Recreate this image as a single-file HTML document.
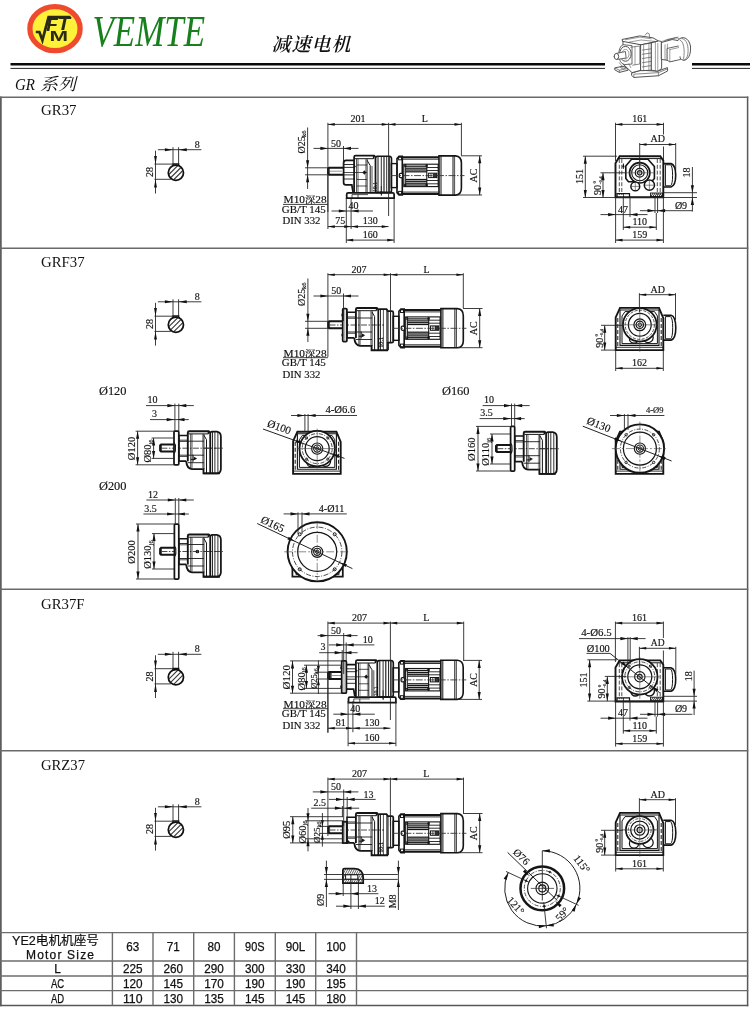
<!DOCTYPE html>
<html><head><meta charset="utf-8"><title>GR37</title>
<style>html,body{margin:0;padding:0;background:#fff}body{width:750px;height:1032px;overflow:hidden}svg{display:block;will-change:transform}</style>
</head><body>
<svg width="750" height="1032" viewBox="0 0 750 1032">
<rect width="750" height="1032" fill="#fff"/>
<ellipse cx="55.00" cy="28.65" rx="25.10" ry="22.00" fill="#fdf13a" stroke="#f04a2e" stroke-width="5.30" />
<path d="M35.8 32 L39.4 32 L42.4 40.2 L48.6 17.2 L70.6 17.2" fill="none" stroke="#2b2a16" stroke-width="2.70" stroke-linejoin="miter"/>
<text x="46.2" y="30.8" font-family="'Liberation Sans',sans-serif" font-weight="bold" font-style="italic" font-size="17.5" fill="#2b2a16" textLength="11.5" lengthAdjust="spacingAndGlyphs">F</text>
<text x="57.6" y="30.2" font-family="'Liberation Sans',sans-serif" font-weight="bold" font-style="italic" font-size="17.5" fill="#2b2a16" textLength="12.6" lengthAdjust="spacingAndGlyphs">T</text>
<text x="49.6" y="41" font-family="'Liberation Sans',sans-serif" font-weight="bold" font-size="15" fill="#2b2a16" textLength="18.6" lengthAdjust="spacingAndGlyphs">M</text>
<text x="92.50" y="45.60" font-family="'Liberation Serif','Noto Serif CJK SC',serif" font-size="45" fill="#17801c"   textLength="112.50" lengthAdjust="spacingAndGlyphs" font-style="italic"  >VEMTE</text>
<text x="271.5" y="51" font-family="'Liberation Serif','Noto Serif CJK SC',serif" font-size="19" font-weight="600" fill="#111" textLength="79" lengthAdjust="spacing" transform="translate(12.7 0) skewX(-14)">减速电机</text>
<line x1="10.50" y1="64.20" x2="605.00" y2="64.20" stroke="#0a0a0a" stroke-width="2.60" />
<line x1="10.50" y1="68.40" x2="605.00" y2="68.40" stroke="#222" stroke-width="1.00" />
<line x1="692.00" y1="64.20" x2="750.00" y2="64.20" stroke="#0a0a0a" stroke-width="2.60" />
<line x1="692.00" y1="68.40" x2="750.00" y2="68.40" stroke="#222" stroke-width="1.00" />
<text x="15" y="90" font-family="'Liberation Serif','Noto Serif CJK SC',serif" font-size="17" fill="#111" font-style="italic" textLength="20" lengthAdjust="spacingAndGlyphs">GR</text>
<text x="40" y="90" font-family="'Liberation Serif','Noto Serif CJK SC',serif" font-size="17" fill="#111" transform="translate(22.4 0) skewX(-14)" textLength="36" lengthAdjust="spacingAndGlyphs">系列</text>
<line x1="0.80" y1="96.60" x2="0.80" y2="1006.20" stroke="#5e5e5e" stroke-width="1.90" />
<line x1="747.60" y1="96.60" x2="747.60" y2="1006.20" stroke="#585858" stroke-width="1.50" />
<line x1="0.00" y1="97.30" x2="748.30" y2="97.30" stroke="#6a6a6a" stroke-width="1.50" />
<line x1="0.00" y1="248.30" x2="748.30" y2="248.30" stroke="#6a6a6a" stroke-width="1.50" />
<line x1="0.00" y1="589.30" x2="748.30" y2="589.30" stroke="#6a6a6a" stroke-width="1.50" />
<line x1="0.00" y1="750.70" x2="748.30" y2="750.70" stroke="#6a6a6a" stroke-width="1.50" />
<line x1="0.00" y1="932.60" x2="748.30" y2="932.60" stroke="#6c6c6c" stroke-width="1.40" />
<line x1="0.00" y1="961.00" x2="748.30" y2="961.00" stroke="#6c6c6c" stroke-width="1.40" />
<line x1="0.00" y1="976.00" x2="748.30" y2="976.00" stroke="#6c6c6c" stroke-width="1.40" />
<line x1="0.00" y1="990.60" x2="748.30" y2="990.60" stroke="#6c6c6c" stroke-width="1.40" />
<line x1="0.00" y1="1005.50" x2="748.30" y2="1005.50" stroke="#585858" stroke-width="1.50" />
<line x1="112.40" y1="932.60" x2="112.40" y2="1005.60" stroke="#6c6c6c" stroke-width="1.40" />
<line x1="153.00" y1="932.60" x2="153.00" y2="1005.60" stroke="#6c6c6c" stroke-width="1.40" />
<line x1="193.70" y1="932.60" x2="193.70" y2="1005.60" stroke="#6c6c6c" stroke-width="1.40" />
<line x1="234.40" y1="932.60" x2="234.40" y2="1005.60" stroke="#6c6c6c" stroke-width="1.40" />
<line x1="275.30" y1="932.60" x2="275.30" y2="1005.60" stroke="#6c6c6c" stroke-width="1.40" />
<line x1="315.70" y1="932.60" x2="315.70" y2="1005.60" stroke="#6c6c6c" stroke-width="1.40" />
<line x1="356.50" y1="932.60" x2="356.50" y2="1005.60" stroke="#6c6c6c" stroke-width="1.40" />
<text x="41.00" y="115.30" font-family="'Liberation Serif','Noto Serif CJK SC',serif" font-size="14.5" fill="#111"   textLength="35.50" lengthAdjust="spacingAndGlyphs"   >GR37</text>
<text x="41.00" y="267.00" font-family="'Liberation Serif','Noto Serif CJK SC',serif" font-size="14.5" fill="#111"   textLength="43.70" lengthAdjust="spacingAndGlyphs"   >GRF37</text>
<text x="41.00" y="609.00" font-family="'Liberation Serif','Noto Serif CJK SC',serif" font-size="14.5" fill="#111"   textLength="43.50" lengthAdjust="spacingAndGlyphs"   >GR37F</text>
<text x="41.00" y="770.30" font-family="'Liberation Serif','Noto Serif CJK SC',serif" font-size="14.5" fill="#111"   textLength="44.00" lengthAdjust="spacingAndGlyphs"   >GRZ37</text>
<text x="12" y="944.6" font-family="'Liberation Sans','Noto Sans CJK SC',sans-serif" font-size="12.4" fill="#111" stroke="#111" stroke-width="0.2" textLength="87" lengthAdjust="spacingAndGlyphs">YE2电机机座号</text>
<text x="26" y="958.5" font-family="'Liberation Sans',sans-serif" font-size="12" fill="#111" stroke="#111" stroke-width="0.25" textLength="68" lengthAdjust="spacing">Motor Size</text>
<text x="132.70" y="950.60" font-family="'Liberation Sans','Noto Sans CJK SC',sans-serif" font-size="12" fill="#111" text-anchor="middle"  textLength="13.00" lengthAdjust="spacingAndGlyphs"   stroke="#111" stroke-width="0.25">63</text>
<text x="173.30" y="950.60" font-family="'Liberation Sans','Noto Sans CJK SC',sans-serif" font-size="12" fill="#111" text-anchor="middle"  textLength="13.00" lengthAdjust="spacingAndGlyphs"   stroke="#111" stroke-width="0.25">71</text>
<text x="214.00" y="950.60" font-family="'Liberation Sans','Noto Sans CJK SC',sans-serif" font-size="12" fill="#111" text-anchor="middle"  textLength="13.00" lengthAdjust="spacingAndGlyphs"   stroke="#111" stroke-width="0.25">80</text>
<text x="254.80" y="950.60" font-family="'Liberation Sans','Noto Sans CJK SC',sans-serif" font-size="12" fill="#111" text-anchor="middle"  textLength="19.50" lengthAdjust="spacingAndGlyphs"   stroke="#111" stroke-width="0.25">90S</text>
<text x="295.50" y="950.60" font-family="'Liberation Sans','Noto Sans CJK SC',sans-serif" font-size="12" fill="#111" text-anchor="middle"  textLength="19.50" lengthAdjust="spacingAndGlyphs"   stroke="#111" stroke-width="0.25">90L</text>
<text x="336.00" y="950.60" font-family="'Liberation Sans','Noto Sans CJK SC',sans-serif" font-size="12" fill="#111" text-anchor="middle"  textLength="19.50" lengthAdjust="spacingAndGlyphs"   stroke="#111" stroke-width="0.25">100</text>
<text x="57.50" y="972.60" font-family="'Liberation Sans','Noto Sans CJK SC',sans-serif" font-size="12" fill="#111" text-anchor="middle"  textLength="6.60" lengthAdjust="spacingAndGlyphs"   stroke="#111" stroke-width="0.25">L</text>
<text x="132.70" y="972.60" font-family="'Liberation Sans','Noto Sans CJK SC',sans-serif" font-size="12" fill="#111" text-anchor="middle"  textLength="19.60" lengthAdjust="spacingAndGlyphs"   stroke="#111" stroke-width="0.25">225</text>
<text x="173.30" y="972.60" font-family="'Liberation Sans','Noto Sans CJK SC',sans-serif" font-size="12" fill="#111" text-anchor="middle"  textLength="19.60" lengthAdjust="spacingAndGlyphs"   stroke="#111" stroke-width="0.25">260</text>
<text x="214.00" y="972.60" font-family="'Liberation Sans','Noto Sans CJK SC',sans-serif" font-size="12" fill="#111" text-anchor="middle"  textLength="19.60" lengthAdjust="spacingAndGlyphs"   stroke="#111" stroke-width="0.25">290</text>
<text x="254.80" y="972.60" font-family="'Liberation Sans','Noto Sans CJK SC',sans-serif" font-size="12" fill="#111" text-anchor="middle"  textLength="19.60" lengthAdjust="spacingAndGlyphs"   stroke="#111" stroke-width="0.25">300</text>
<text x="295.50" y="972.60" font-family="'Liberation Sans','Noto Sans CJK SC',sans-serif" font-size="12" fill="#111" text-anchor="middle"  textLength="19.60" lengthAdjust="spacingAndGlyphs"   stroke="#111" stroke-width="0.25">330</text>
<text x="336.00" y="972.60" font-family="'Liberation Sans','Noto Sans CJK SC',sans-serif" font-size="12" fill="#111" text-anchor="middle"  textLength="19.60" lengthAdjust="spacingAndGlyphs"   stroke="#111" stroke-width="0.25">340</text>
<text x="57.50" y="987.60" font-family="'Liberation Sans','Noto Sans CJK SC',sans-serif" font-size="12" fill="#111" text-anchor="middle"  textLength="13.20" lengthAdjust="spacingAndGlyphs"   stroke="#111" stroke-width="0.25">AC</text>
<text x="132.70" y="987.60" font-family="'Liberation Sans','Noto Sans CJK SC',sans-serif" font-size="12" fill="#111" text-anchor="middle"  textLength="19.60" lengthAdjust="spacingAndGlyphs"   stroke="#111" stroke-width="0.25">120</text>
<text x="173.30" y="987.60" font-family="'Liberation Sans','Noto Sans CJK SC',sans-serif" font-size="12" fill="#111" text-anchor="middle"  textLength="19.60" lengthAdjust="spacingAndGlyphs"   stroke="#111" stroke-width="0.25">145</text>
<text x="214.00" y="987.60" font-family="'Liberation Sans','Noto Sans CJK SC',sans-serif" font-size="12" fill="#111" text-anchor="middle"  textLength="19.60" lengthAdjust="spacingAndGlyphs"   stroke="#111" stroke-width="0.25">170</text>
<text x="254.80" y="987.60" font-family="'Liberation Sans','Noto Sans CJK SC',sans-serif" font-size="12" fill="#111" text-anchor="middle"  textLength="19.60" lengthAdjust="spacingAndGlyphs"   stroke="#111" stroke-width="0.25">190</text>
<text x="295.50" y="987.60" font-family="'Liberation Sans','Noto Sans CJK SC',sans-serif" font-size="12" fill="#111" text-anchor="middle"  textLength="19.60" lengthAdjust="spacingAndGlyphs"   stroke="#111" stroke-width="0.25">190</text>
<text x="336.00" y="987.60" font-family="'Liberation Sans','Noto Sans CJK SC',sans-serif" font-size="12" fill="#111" text-anchor="middle"  textLength="19.60" lengthAdjust="spacingAndGlyphs"   stroke="#111" stroke-width="0.25">195</text>
<text x="57.50" y="1002.60" font-family="'Liberation Sans','Noto Sans CJK SC',sans-serif" font-size="12" fill="#111" text-anchor="middle"  textLength="13.20" lengthAdjust="spacingAndGlyphs"   stroke="#111" stroke-width="0.25">AD</text>
<text x="132.70" y="1002.60" font-family="'Liberation Sans','Noto Sans CJK SC',sans-serif" font-size="12" fill="#111" text-anchor="middle"  textLength="19.60" lengthAdjust="spacingAndGlyphs"   stroke="#111" stroke-width="0.25">110</text>
<text x="173.30" y="1002.60" font-family="'Liberation Sans','Noto Sans CJK SC',sans-serif" font-size="12" fill="#111" text-anchor="middle"  textLength="19.60" lengthAdjust="spacingAndGlyphs"   stroke="#111" stroke-width="0.25">130</text>
<text x="214.00" y="1002.60" font-family="'Liberation Sans','Noto Sans CJK SC',sans-serif" font-size="12" fill="#111" text-anchor="middle"  textLength="19.60" lengthAdjust="spacingAndGlyphs"   stroke="#111" stroke-width="0.25">135</text>
<text x="254.80" y="1002.60" font-family="'Liberation Sans','Noto Sans CJK SC',sans-serif" font-size="12" fill="#111" text-anchor="middle"  textLength="19.60" lengthAdjust="spacingAndGlyphs"   stroke="#111" stroke-width="0.25">145</text>
<text x="295.50" y="1002.60" font-family="'Liberation Sans','Noto Sans CJK SC',sans-serif" font-size="12" fill="#111" text-anchor="middle"  textLength="19.60" lengthAdjust="spacingAndGlyphs"   stroke="#111" stroke-width="0.25">145</text>
<text x="336.00" y="1002.60" font-family="'Liberation Sans','Noto Sans CJK SC',sans-serif" font-size="12" fill="#111" text-anchor="middle"  textLength="19.60" lengthAdjust="spacingAndGlyphs"   stroke="#111" stroke-width="0.25">180</text>
<g transform="translate(605 28) scale(0.12)"><path d="M225 375 L300 352 L440 360 L520 330 L522 358 L445 398 L240 412 L224 396 Z" stroke="#4a4a4a" stroke-width="8" fill="#fff" stroke-linejoin="round" stroke-linecap="round"/><path d="M240 412 L240 385 L445 372 L445 398 M445 372 L522 340" stroke="#5a5a5a" stroke-width="6" fill="none" stroke-linejoin="round" stroke-linecap="round"/><path d="M85 332 L150 318 L190 338 L192 352 L120 370 L84 350 Z" stroke="#4a4a4a" stroke-width="8" fill="#fff" stroke-linejoin="round" stroke-linecap="round"/><path d="M120 370 L120 352 L190 338 M120 352 L85 334" stroke="#5a5a5a" stroke-width="6" fill="none" stroke-linejoin="round" stroke-linecap="round"/><path d="M130 330 a22 9 0 1 0 44 0 a22 9 0 1 0 -44 0" stroke="#5a5a5a" stroke-width="5" fill="none" stroke-linejoin="round" stroke-linecap="round"/><path d="M150 110 L150 300 L225 372 L300 352 L300 140 Z" stroke="#4a4a4a" stroke-width="8" fill="#fff" stroke-linejoin="round" stroke-linecap="round"/><path d="M145 95 L290 66 L400 82 L445 108 L300 140 L150 112 Z" stroke="#4a4a4a" stroke-width="8" fill="#fff" stroke-linejoin="round" stroke-linecap="round"/><path d="M170 98 L292 76 L385 90 M200 118 L300 100 L420 112" stroke="#5a5a5a" stroke-width="5" fill="none" stroke-linejoin="round" stroke-linecap="round"/><path d="M335 60 L350 40 L368 48 L372 76" stroke="#5a5a5a" stroke-width="6" fill="none" stroke-linejoin="round" stroke-linecap="round"/><path d="M300 140 L388 124 L388 352 L300 356 Z" stroke="#4a4a4a" stroke-width="8" fill="#fff" stroke-linejoin="round" stroke-linecap="round"/><path d="M312 184 L380 174" stroke="#5a5a5a" stroke-width="6" fill="none" stroke-linejoin="round" stroke-linecap="round"/><path d="M312 219 L380 209" stroke="#5a5a5a" stroke-width="6" fill="none" stroke-linejoin="round" stroke-linecap="round"/><path d="M312 254 L380 244" stroke="#5a5a5a" stroke-width="6" fill="none" stroke-linejoin="round" stroke-linecap="round"/><path d="M312 289 L380 279" stroke="#5a5a5a" stroke-width="6" fill="none" stroke-linejoin="round" stroke-linecap="round"/><path d="M312 324 L380 314" stroke="#5a5a5a" stroke-width="6" fill="none" stroke-linejoin="round" stroke-linecap="round"/><path d="M322 140 L322 352 M366 130 L366 350" stroke="#5a5a5a" stroke-width="5" fill="none" stroke-linejoin="round" stroke-linecap="round"/><path d="M388 124 L445 108 L472 112 L472 338 L440 360 L388 352 Z" stroke="#4a4a4a" stroke-width="8" fill="#fff" stroke-linejoin="round" stroke-linecap="round"/><path d="M440 128 L440 360 M420 120 L420 355" stroke="#5a5a5a" stroke-width="5" fill="none" stroke-linejoin="round" stroke-linecap="round"/><path d="M150 140 C100 150 100 300 165 305 L225 300 L225 150 Z" stroke="#4a4a4a" stroke-width="7" fill="#fff" stroke-linejoin="round" stroke-linecap="round"/><path d="M170 215 m-48 0 a48 62 0 1 0 96 0 a48 62 0 1 0 -96 0" stroke="#4a4a4a" stroke-width="8" fill="#fff" stroke-linejoin="round" stroke-linecap="round"/><path d="M170 218 m-30 0 a30 40 0 1 0 60 0 a30 40 0 1 0 -60 0" stroke="#5a5a5a" stroke-width="5" fill="none" stroke-linejoin="round" stroke-linecap="round"/><path d="M215 160 L290 150 L290 300 L230 310" stroke="#5a5a5a" stroke-width="6" fill="none" stroke-linejoin="round" stroke-linecap="round"/><path d="M250 155 L250 305" stroke="#5a5a5a" stroke-width="5" fill="none" stroke-linejoin="round" stroke-linecap="round"/><path d="M95 212 L170 196 L176 250 L100 262 Z" stroke="#4a4a4a" stroke-width="7" fill="#fff" stroke-linejoin="round" stroke-linecap="round"/><path d="M95 237 m-19 0 a19 25 0 1 0 38 0 a19 25 0 1 0 -38 0" stroke="#4a4a4a" stroke-width="8" fill="#fff" stroke-linejoin="round" stroke-linecap="round"/><path d="M120 290 L150 330 M200 300 L215 330" stroke="#5a5a5a" stroke-width="5" fill="none" stroke-linejoin="round" stroke-linecap="round"/><path d="M472 120 L560 96 L640 110 L650 250 L560 275 L472 262 Z" stroke="#4a4a4a" stroke-width="8" fill="#fff" stroke-linejoin="round" stroke-linecap="round"/><path d="M480 110 L590 82 L640 92 M500 102 L600 78 M520 96 L610 76" stroke="#5a5a5a" stroke-width="5" fill="none" stroke-linejoin="round" stroke-linecap="round"/><path d="M500 140 L500 262 M520 135 L520 266" stroke="#5a5a5a" stroke-width="5" fill="none" stroke-linejoin="round" stroke-linecap="round"/><path d="M520 170 L610 150 L628 158 L630 262 L540 282 L520 270 Z" stroke="#4a4a4a" stroke-width="7" fill="#fff" stroke-linejoin="round" stroke-linecap="round"/><path d="M540 180 L540 282 M540 180 L628 160" stroke="#5a5a5a" stroke-width="5" fill="none" stroke-linejoin="round" stroke-linecap="round"/><path d="M610 100 C640 60 700 80 712 150 C720 220 690 275 650 268 C630 262 625 250 625 240" stroke="#4a4a4a" stroke-width="8" fill="#fff" stroke-linejoin="round" stroke-linecap="round"/><path d="M640 88 C680 90 700 150 690 220 C685 250 670 268 655 268" stroke="#5a5a5a" stroke-width="6" fill="none" stroke-linejoin="round" stroke-linecap="round"/><path d="M625 100 C655 110 668 180 655 255" stroke="#5a5a5a" stroke-width="6" fill="none" stroke-linejoin="round" stroke-linecap="round"/></g>
<clipPath id="c175_172"><circle cx="175.9" cy="172.7" r="7.0"/></clipPath>
<g clip-path="url(#c175_172)">
<line x1="162.70" y1="180.70" x2="178.70" y2="164.70" stroke="#333" stroke-width="1.12" />
<line x1="167.70" y1="180.70" x2="183.70" y2="164.70" stroke="#333" stroke-width="1.12" />
<line x1="172.70" y1="180.70" x2="188.70" y2="164.70" stroke="#333" stroke-width="1.12" />
</g>
<circle cx="175.90" cy="172.70" r="7.60" fill="none" stroke="#111" stroke-width="1.75" />
<path d="M173.00 166.10 L173.00 163.90 L178.60 163.90 L178.60 166.10" fill="none" stroke="#111" stroke-width="1.50" />
<line x1="173.00" y1="147.20" x2="173.00" y2="163.90" stroke="#222" stroke-width="0.88" />
<line x1="178.60" y1="147.20" x2="178.60" y2="163.90" stroke="#222" stroke-width="0.88" />
<line x1="157.90" y1="149.70" x2="201.40" y2="149.70" stroke="#222" stroke-width="0.88" />
<polygon points="173.00,149.70 164.88,151.14 164.88,148.26" fill="#111"/>
<polygon points="178.60,149.70 186.72,148.26 186.72,151.14" fill="#111"/>
<text x="197.20" y="147.50" font-family="'Liberation Serif','Noto Serif CJK SC',serif" font-size="10" fill="#111" text-anchor="middle"      stroke="#111" stroke-width="0.15">8</text>
<line x1="155.50" y1="150.70" x2="155.50" y2="193.50" stroke="#222" stroke-width="0.88" />
<line x1="154.50" y1="164.10" x2="172.40" y2="164.10" stroke="#222" stroke-width="0.88" />
<line x1="154.50" y1="179.30" x2="170.90" y2="179.30" stroke="#222" stroke-width="0.88" />
<polygon points="155.50,164.10 154.06,155.97 156.94,155.97" fill="#111"/>
<polygon points="155.50,179.30 156.94,187.42 154.06,187.42" fill="#111"/>
<text x="152.90" y="171.90" font-family="'Liberation Serif','Noto Serif CJK SC',serif" font-size="10" fill="#111" text-anchor="middle" transform="rotate(-90 152.90 171.90)"     stroke="#111" stroke-width="0.15">28</text>
<clipPath id="c175_324"><circle cx="175.9" cy="324.8" r="7.0"/></clipPath>
<g clip-path="url(#c175_324)">
<line x1="162.70" y1="332.80" x2="178.70" y2="316.80" stroke="#333" stroke-width="1.12" />
<line x1="167.70" y1="332.80" x2="183.70" y2="316.80" stroke="#333" stroke-width="1.12" />
<line x1="172.70" y1="332.80" x2="188.70" y2="316.80" stroke="#333" stroke-width="1.12" />
</g>
<circle cx="175.90" cy="324.80" r="7.60" fill="none" stroke="#111" stroke-width="1.75" />
<path d="M173.00 318.20 L173.00 316.00 L178.60 316.00 L178.60 318.20" fill="none" stroke="#111" stroke-width="1.50" />
<line x1="173.00" y1="299.30" x2="173.00" y2="316.00" stroke="#222" stroke-width="0.88" />
<line x1="178.60" y1="299.30" x2="178.60" y2="316.00" stroke="#222" stroke-width="0.88" />
<line x1="157.90" y1="301.80" x2="201.40" y2="301.80" stroke="#222" stroke-width="0.88" />
<polygon points="173.00,301.80 164.88,303.24 164.88,300.36" fill="#111"/>
<polygon points="178.60,301.80 186.72,300.36 186.72,303.24" fill="#111"/>
<text x="197.20" y="299.60" font-family="'Liberation Serif','Noto Serif CJK SC',serif" font-size="10" fill="#111" text-anchor="middle"      stroke="#111" stroke-width="0.15">8</text>
<line x1="155.50" y1="302.80" x2="155.50" y2="345.60" stroke="#222" stroke-width="0.88" />
<line x1="154.50" y1="316.20" x2="172.40" y2="316.20" stroke="#222" stroke-width="0.88" />
<line x1="154.50" y1="331.40" x2="170.90" y2="331.40" stroke="#222" stroke-width="0.88" />
<polygon points="155.50,316.20 154.06,308.07 156.94,308.07" fill="#111"/>
<polygon points="155.50,331.40 156.94,339.53 154.06,339.53" fill="#111"/>
<text x="152.90" y="324.00" font-family="'Liberation Serif','Noto Serif CJK SC',serif" font-size="10" fill="#111" text-anchor="middle" transform="rotate(-90 152.90 324.00)"     stroke="#111" stroke-width="0.15">28</text>
<clipPath id="c175_677"><circle cx="175.9" cy="677.3" r="7.0"/></clipPath>
<g clip-path="url(#c175_677)">
<line x1="162.70" y1="685.30" x2="178.70" y2="669.30" stroke="#333" stroke-width="1.12" />
<line x1="167.70" y1="685.30" x2="183.70" y2="669.30" stroke="#333" stroke-width="1.12" />
<line x1="172.70" y1="685.30" x2="188.70" y2="669.30" stroke="#333" stroke-width="1.12" />
</g>
<circle cx="175.90" cy="677.30" r="7.60" fill="none" stroke="#111" stroke-width="1.75" />
<path d="M173.00 670.70 L173.00 668.50 L178.60 668.50 L178.60 670.70" fill="none" stroke="#111" stroke-width="1.50" />
<line x1="173.00" y1="651.80" x2="173.00" y2="668.50" stroke="#222" stroke-width="0.88" />
<line x1="178.60" y1="651.80" x2="178.60" y2="668.50" stroke="#222" stroke-width="0.88" />
<line x1="157.90" y1="654.30" x2="201.40" y2="654.30" stroke="#222" stroke-width="0.88" />
<polygon points="173.00,654.30 164.88,655.74 164.88,652.86" fill="#111"/>
<polygon points="178.60,654.30 186.72,652.86 186.72,655.74" fill="#111"/>
<text x="197.20" y="652.10" font-family="'Liberation Serif','Noto Serif CJK SC',serif" font-size="10" fill="#111" text-anchor="middle"      stroke="#111" stroke-width="0.15">8</text>
<line x1="155.50" y1="655.30" x2="155.50" y2="698.10" stroke="#222" stroke-width="0.88" />
<line x1="154.50" y1="668.70" x2="172.40" y2="668.70" stroke="#222" stroke-width="0.88" />
<line x1="154.50" y1="683.90" x2="170.90" y2="683.90" stroke="#222" stroke-width="0.88" />
<polygon points="155.50,668.70 154.06,660.57 156.94,660.57" fill="#111"/>
<polygon points="155.50,683.90 156.94,692.02 154.06,692.02" fill="#111"/>
<text x="152.90" y="676.50" font-family="'Liberation Serif','Noto Serif CJK SC',serif" font-size="10" fill="#111" text-anchor="middle" transform="rotate(-90 152.90 676.50)"     stroke="#111" stroke-width="0.15">28</text>
<clipPath id="c175_829"><circle cx="175.9" cy="829.8" r="7.0"/></clipPath>
<g clip-path="url(#c175_829)">
<line x1="162.70" y1="837.80" x2="178.70" y2="821.80" stroke="#333" stroke-width="1.12" />
<line x1="167.70" y1="837.80" x2="183.70" y2="821.80" stroke="#333" stroke-width="1.12" />
<line x1="172.70" y1="837.80" x2="188.70" y2="821.80" stroke="#333" stroke-width="1.12" />
</g>
<circle cx="175.90" cy="829.80" r="7.60" fill="none" stroke="#111" stroke-width="1.75" />
<path d="M173.00 823.20 L173.00 821.00 L178.60 821.00 L178.60 823.20" fill="none" stroke="#111" stroke-width="1.50" />
<line x1="173.00" y1="804.30" x2="173.00" y2="821.00" stroke="#222" stroke-width="0.88" />
<line x1="178.60" y1="804.30" x2="178.60" y2="821.00" stroke="#222" stroke-width="0.88" />
<line x1="157.90" y1="806.80" x2="201.40" y2="806.80" stroke="#222" stroke-width="0.88" />
<polygon points="173.00,806.80 164.88,808.24 164.88,805.36" fill="#111"/>
<polygon points="178.60,806.80 186.72,805.36 186.72,808.24" fill="#111"/>
<text x="197.20" y="804.60" font-family="'Liberation Serif','Noto Serif CJK SC',serif" font-size="10" fill="#111" text-anchor="middle"      stroke="#111" stroke-width="0.15">8</text>
<line x1="155.50" y1="807.80" x2="155.50" y2="850.60" stroke="#222" stroke-width="0.88" />
<line x1="154.50" y1="821.20" x2="172.40" y2="821.20" stroke="#222" stroke-width="0.88" />
<line x1="154.50" y1="836.40" x2="170.90" y2="836.40" stroke="#222" stroke-width="0.88" />
<polygon points="155.50,821.20 154.06,813.07 156.94,813.07" fill="#111"/>
<polygon points="155.50,836.40 156.94,844.52 154.06,844.52" fill="#111"/>
<text x="152.90" y="829.00" font-family="'Liberation Serif','Noto Serif CJK SC',serif" font-size="10" fill="#111" text-anchor="middle" transform="rotate(-90 152.90 829.00)"     stroke="#111" stroke-width="0.15">28</text>
<path d="M615.7 350.1 L615.7 317.4 L620 307.9 L659 307.9 L663.3 318.1 L663.3 350.1 Z" fill="none" stroke="#151515" stroke-width="1.88" />
<path d="M620 345.4 L620 310 L659 310 L659 345.4 Z" fill="none" stroke="#151515" stroke-width="1.12" />
<path d="M622 343.6 L622 316 L625 311.6 L654.5 311.6 L657.4 316 L657.4 343.6 Z" fill="none" stroke="#151515" stroke-width="1.00" />
<line x1="617.80" y1="318.00" x2="617.80" y2="347.00" stroke="#151515" stroke-width="1.00" stroke-dasharray="4 2"/>
<line x1="661.20" y1="318.00" x2="661.20" y2="347.00" stroke="#151515" stroke-width="1.00" stroke-dasharray="4 2"/>
<line x1="616.00" y1="347.30" x2="663.00" y2="347.30" stroke="#151515" stroke-width="0.88" />
<path d="M663.3 315.3 L671 315.3 Q675.8 316.5 675.8 327.7 Q675.8 338.8 671 340.1 L663.3 340.1" fill="none" stroke="#151515" stroke-width="1.62" />
<path d="M665.4 316.6 L670.5 316.6 Q672.7 318 672.7 327.7 Q672.7 337.5 670.5 338.8 L665.4 338.8 Z" fill="none" stroke="#151515" stroke-width="1.00" />
<circle cx="634.00" cy="338.50" r="4.60" fill="none" stroke="#151515" stroke-width="1.25" />
<circle cx="648.00" cy="337.50" r="5.20" fill="none" stroke="#151515" stroke-width="1.25" />
<circle cx="639.80" cy="324.80" r="16.80" fill="#fff" stroke="#151515" stroke-width="1.75" />
<circle cx="639.80" cy="324.80" r="14.60" fill="none" stroke="#333" stroke-width="0.88" stroke-dasharray="3 1.5"/>
<circle cx="639.80" cy="324.80" r="11.40" fill="none" stroke="#151515" stroke-width="1.25" />
<circle cx="639.80" cy="324.80" r="5.90" fill="none" stroke="#151515" stroke-width="1.25" />
<circle cx="639.80" cy="324.80" r="3.70" fill="none" stroke="#151515" stroke-width="1.25" />
<circle cx="639.80" cy="324.80" r="1.80" fill="none" stroke="#151515" stroke-width="1.00" />
<line x1="621.80" y1="324.80" x2="657.80" y2="324.80" stroke="#444" stroke-width="0.62" />
<line x1="639.80" y1="306.80" x2="639.80" y2="351.80" stroke="#444" stroke-width="0.62" />
<line x1="639.40" y1="293.20" x2="639.40" y2="312.00" stroke="#222" stroke-width="0.88" />
<line x1="675.50" y1="293.20" x2="675.50" y2="320.00" stroke="#222" stroke-width="0.88" />
<line x1="639.40" y1="294.70" x2="675.50" y2="294.70" stroke="#222" stroke-width="0.88" />
<polygon points="639.40,294.70 646.27,293.41 646.27,295.99" fill="#111"/>
<polygon points="675.50,294.70 668.62,295.99 668.62,293.41" fill="#111"/>
<text x="657.80" y="292.60" font-family="'Liberation Serif','Noto Serif CJK SC',serif" font-size="10" fill="#111" text-anchor="middle"      stroke="#111" stroke-width="0.15">AD</text>
<line x1="604.70" y1="325.30" x2="604.70" y2="350.10" stroke="#222" stroke-width="0.88" />
<polygon points="604.70,325.30 606.28,332.80 603.12,332.80" fill="#111"/>
<polygon points="604.70,350.10 603.12,342.60 606.28,342.60" fill="#111"/>
<line x1="601.00" y1="325.30" x2="623.00" y2="325.30" stroke="#222" stroke-width="0.88" />
<line x1="601.00" y1="350.10" x2="616.00" y2="350.10" stroke="#222" stroke-width="0.88" />
<text x="602.60" y="347.80" font-family="'Liberation Serif','Noto Serif CJK SC',serif" font-size="10" fill="#111"  transform="rotate(-90 602.60 347.80)"     stroke="#111" stroke-width="0.15">90</text>
<text x="598.00" y="336.40" font-family="'Liberation Serif','Noto Serif CJK SC',serif" font-size="5" fill="#111"  transform="rotate(-90 598.00 336.40)"     stroke="#111" stroke-width="0.15">0</text>
<text x="603.20" y="337.00" font-family="'Liberation Serif','Noto Serif CJK SC',serif" font-size="5" fill="#111"  transform="rotate(-90 603.20 337.00)" textLength="8.00" lengthAdjust="spacingAndGlyphs"    stroke="#111" stroke-width="0.15">-0.4</text>
<line x1="615.70" y1="350.10" x2="615.70" y2="371.00" stroke="#222" stroke-width="0.88" />
<line x1="663.30" y1="350.10" x2="663.30" y2="371.00" stroke="#222" stroke-width="0.88" />
<line x1="615.70" y1="368.30" x2="663.30" y2="368.30" stroke="#222" stroke-width="0.88" />
<polygon points="615.70,368.30 622.58,367.01 622.58,369.59" fill="#111"/>
<polygon points="663.30,368.30 656.42,369.59 656.42,367.01" fill="#111"/>
<text x="639.50" y="366.00" font-family="'Liberation Serif','Noto Serif CJK SC',serif" font-size="10" fill="#111" text-anchor="middle"      stroke="#111" stroke-width="0.15">162</text>
<path d="M343.5 167.7 L329 167.7 L328 168.7 L328 173.7 L329 174.7 L343.5 174.7" fill="none" stroke="#151515" stroke-width="1.88" />
<line x1="329.40" y1="167.70" x2="329.40" y2="174.70" stroke="#151515" stroke-width="0.75" />
<line x1="330.00" y1="171.20" x2="342.00" y2="171.20" stroke="#555" stroke-width="0.62" />
<path d="M354.1 160.3 L346 160.3 Q343.6 160.5 343.6 163.0 L343.6 182.4 Q343.6 184.8 346 184.8 L351.8 184.8 L353 191.8" fill="none" stroke="#151515" stroke-width="1.75" />
<line x1="343.60" y1="164.50" x2="354.10" y2="164.50" stroke="#151515" stroke-width="0.88" />
<line x1="343.60" y1="167.40" x2="354.10" y2="167.40" stroke="#151515" stroke-width="0.88" />
<line x1="343.60" y1="174.90" x2="354.10" y2="174.90" stroke="#151515" stroke-width="0.88" />
<line x1="343.60" y1="179.00" x2="354.10" y2="179.00" stroke="#151515" stroke-width="0.88" />
<line x1="343.60" y1="172.50" x2="367.00" y2="172.50" stroke="#151515" stroke-width="0.75" />
<path d="M354.1 192.6 L354.1 157.2 Q354.1 155.7 355.6 155.7 L374.2 155.7 L375.5 157.0 L375.5 192.6" fill="none" stroke="#151515" stroke-width="1.75" />
<line x1="354.60" y1="158.70" x2="373.60" y2="158.70" stroke="#151515" stroke-width="1.00" />
<line x1="373.60" y1="155.70" x2="373.60" y2="158.70" stroke="#151515" stroke-width="1.50" />
<line x1="356.80" y1="158.70" x2="356.80" y2="192.00" stroke="#151515" stroke-width="1.00" />
<line x1="358.30" y1="158.70" x2="358.30" y2="192.00" stroke="#555" stroke-width="0.62" />
<line x1="367.00" y1="158.70" x2="367.00" y2="192.00" stroke="#151515" stroke-width="1.00" />
<line x1="365.60" y1="158.70" x2="365.60" y2="192.00" stroke="#555" stroke-width="0.62" />
<path d="M367 160.2 L370.2 165.5 L370.2 192.0" fill="none" stroke="#151515" stroke-width="1.00" />
<line x1="372.00" y1="166.00" x2="372.00" y2="192.00" stroke="#151515" stroke-width="0.75" />
<line x1="356.80" y1="165.00" x2="367.00" y2="165.00" stroke="#151515" stroke-width="0.75" />
<line x1="356.80" y1="179.50" x2="367.00" y2="179.50" stroke="#151515" stroke-width="0.75" />
<line x1="356.80" y1="186.00" x2="367.00" y2="186.00" stroke="#151515" stroke-width="0.75" />
<polygon points="362.4,172.5 364.4,170.2 366.2,172.5 364.4,174.8" fill="#151515"/>
<circle cx="354.60" cy="166.50" r="0.80" fill="#151515" stroke="#151515" stroke-width="0.62" />
<path d="M375.5 157.4 L377 156.2 L389.3 156.2 Q391.5 156.4 391.5 158.6 L391.5 190.4 Q391.5 192.4 389.3 192.4 L375.5 192.4" fill="none" stroke="#151515" stroke-width="1.62" />
<line x1="378.00" y1="156.40" x2="378.00" y2="192.20" stroke="#151515" stroke-width="1.00" />
<line x1="381.30" y1="156.40" x2="381.30" y2="192.20" stroke="#151515" stroke-width="0.88" />
<line x1="384.00" y1="156.40" x2="384.00" y2="192.20" stroke="#151515" stroke-width="1.12" />
<line x1="386.70" y1="156.40" x2="386.70" y2="192.20" stroke="#151515" stroke-width="0.88" />
<line x1="389.30" y1="156.40" x2="389.30" y2="192.20" stroke="#151515" stroke-width="1.00" />
<text x="376.60" y="192.00" font-family="'Liberation Serif','Noto Serif CJK SC',serif" font-size="6" fill="#111"  transform="rotate(-90 376.60 192.00)" textLength="10.00" lengthAdjust="spacingAndGlyphs"    stroke="#111" stroke-width="0.15">10.1</text>
<line x1="381.30" y1="186.00" x2="381.30" y2="195.50" stroke="#151515" stroke-width="0.75" />
<polygon points="381.30,196.00 380.15,191.62 382.45,191.62" fill="#111"/>
<path d="M348.2 192.8 L392.6 192.8 Q394.1 192.8 394.1 194.3 L394.1 198.2 L346.7 198.2 L346.7 194.3 Q346.7 192.8 348.2 192.8 Z" fill="none" stroke="#151515" stroke-width="1.75" />
<line x1="352.00" y1="194.60" x2="368.00" y2="194.60" stroke="#151515" stroke-width="0.75" />
<line x1="352.00" y1="194.60" x2="352.00" y2="198.20" stroke="#151515" stroke-width="0.75" />
<line x1="358.00" y1="194.60" x2="358.00" y2="198.20" stroke="#151515" stroke-width="0.75" />
<rect x="391.30" y="163.60" width="5.70" height="24.00" rx="0" fill="none" stroke="#151515" stroke-width="1.38" />
<path d="M397.0 158.6 L399.0 156.4 L402.3 156.4 L402.3 194.9 L399.0 194.9 L397.0 192.6 Z" fill="none" stroke="#151515" stroke-width="1.62" />
<rect x="398.60" y="157.20" width="3.00" height="2.60" rx="0" fill="none" stroke="#151515" stroke-width="1.00" />
<rect x="398.60" y="191.40" width="3.00" height="2.60" rx="0" fill="none" stroke="#151515" stroke-width="1.00" />
<line x1="402.30" y1="157.20" x2="439.00" y2="157.20" stroke="#151515" stroke-width="2.00" />
<line x1="402.30" y1="194.10" x2="439.00" y2="194.10" stroke="#151515" stroke-width="2.00" />
<line x1="402.30" y1="159.20" x2="439.00" y2="159.20" stroke="#151515" stroke-width="0.88" />
<line x1="402.30" y1="192.10" x2="439.00" y2="192.10" stroke="#151515" stroke-width="0.88" />
<rect x="403.80" y="164.20" width="34.40" height="22.40" rx="0" fill="none" stroke="#151515" stroke-width="1.12" />
<line x1="426.80" y1="164.20" x2="426.80" y2="186.60" stroke="#151515" stroke-width="1.12" />
<line x1="405.60" y1="164.20" x2="405.60" y2="186.60" stroke="#151515" stroke-width="0.88" />
<line x1="405.60" y1="166.20" x2="426.80" y2="166.20" stroke="#151515" stroke-width="1.25" />
<line x1="405.60" y1="168.20" x2="426.80" y2="168.20" stroke="#151515" stroke-width="1.25" />
<line x1="405.60" y1="170.00" x2="426.80" y2="170.00" stroke="#151515" stroke-width="1.25" />
<line x1="405.60" y1="171.80" x2="426.80" y2="171.80" stroke="#151515" stroke-width="1.25" />
<line x1="405.60" y1="179.50" x2="426.80" y2="179.50" stroke="#151515" stroke-width="1.25" />
<line x1="405.60" y1="181.30" x2="426.80" y2="181.30" stroke="#151515" stroke-width="1.25" />
<line x1="405.60" y1="183.20" x2="426.80" y2="183.20" stroke="#151515" stroke-width="1.25" />
<line x1="405.60" y1="185.00" x2="426.80" y2="185.00" stroke="#151515" stroke-width="1.25" />
<line x1="426.80" y1="167.50" x2="438.20" y2="167.50" stroke="#151515" stroke-width="0.88" />
<line x1="426.80" y1="170.50" x2="438.20" y2="170.50" stroke="#151515" stroke-width="0.88" />
<line x1="426.80" y1="180.50" x2="438.20" y2="180.50" stroke="#151515" stroke-width="0.88" />
<line x1="426.80" y1="183.80" x2="438.20" y2="183.80" stroke="#151515" stroke-width="0.88" />
<rect x="404.30" y="165.00" width="1.60" height="1.60" rx="0" fill="none" stroke="#151515" stroke-width="0.75" />
<rect x="404.30" y="184.20" width="1.60" height="1.60" rx="0" fill="none" stroke="#151515" stroke-width="0.75" />
<rect x="425.90" y="165.00" width="1.60" height="1.60" rx="0" fill="none" stroke="#151515" stroke-width="0.75" />
<rect x="425.90" y="184.20" width="1.60" height="1.60" rx="0" fill="none" stroke="#151515" stroke-width="0.75" />
<rect x="428.60" y="173.20" width="8.20" height="4.40" rx="0" fill="none" stroke="#151515" stroke-width="1.00" />
<rect x="433.20" y="173.80" width="3.20" height="3.20" rx="0" fill="#333" stroke="#151515" stroke-width="0.75" />
<line x1="431.00" y1="173.20" x2="431.00" y2="177.60" stroke="#151515" stroke-width="0.75" />
<rect x="399.30" y="173.40" width="3.40" height="4.20" rx="1.2" fill="#fff" stroke="#151515" stroke-width="1.25" />
<path d="M439.0 155.9 L455.5 155.9 Q461.4 156.4 461.4 163.0 L461.4 188.0 Q461.4 194.6 455.5 195.1 L439.0 195.1 Z" fill="none" stroke="#151515" stroke-width="1.62" />
<line x1="441.00" y1="155.90" x2="441.00" y2="195.10" stroke="#151515" stroke-width="1.00" />
<line x1="453.00" y1="155.90" x2="453.00" y2="195.10" stroke="#151515" stroke-width="1.00" />
<line x1="454.60" y1="156.00" x2="454.60" y2="195.00" stroke="#151515" stroke-width="0.75" />
<line x1="391.00" y1="175.60" x2="464.50" y2="175.60" stroke="#333" stroke-width="0.88" stroke-dasharray="7 1.5 1.5 1.5"/>
<line x1="327.90" y1="122.80" x2="327.90" y2="212.00" stroke="#222" stroke-width="0.88" />
<line x1="388.60" y1="122.80" x2="388.60" y2="216.00" stroke="#222" stroke-width="0.88" />
<line x1="461.40" y1="122.80" x2="461.40" y2="155.50" stroke="#222" stroke-width="0.88" />
<line x1="327.90" y1="124.40" x2="388.60" y2="124.40" stroke="#222" stroke-width="0.88" />
<polygon points="327.90,124.40 334.77,123.11 334.77,125.69" fill="#111"/>
<polygon points="388.60,124.40 381.73,125.69 381.73,123.11" fill="#111"/>
<line x1="388.60" y1="124.40" x2="461.40" y2="124.40" stroke="#222" stroke-width="0.88" />
<polygon points="388.60,124.40 395.48,123.11 395.48,125.69" fill="#111"/>
<polygon points="461.40,124.40 454.52,125.69 454.52,123.11" fill="#111"/>
<text x="358.00" y="122.30" font-family="'Liberation Serif','Noto Serif CJK SC',serif" font-size="10" fill="#111" text-anchor="middle"      stroke="#111" stroke-width="0.15">201</text>
<text x="424.70" y="122.30" font-family="'Liberation Serif','Noto Serif CJK SC',serif" font-size="10" fill="#111" text-anchor="middle"      stroke="#111" stroke-width="0.15">L</text>
<line x1="343.50" y1="146.00" x2="343.50" y2="167.00" stroke="#222" stroke-width="0.88" />
<line x1="313.50" y1="148.40" x2="358.50" y2="148.40" stroke="#222" stroke-width="0.88" />
<polygon points="327.90,148.40 320.40,149.98 320.40,146.82" fill="#111"/>
<polygon points="343.50,148.40 351.00,146.82 351.00,149.98" fill="#111"/>
<text x="336.00" y="146.60" font-family="'Liberation Serif','Noto Serif CJK SC',serif" font-size="10" fill="#111" text-anchor="middle"      stroke="#111" stroke-width="0.15">50</text>
<line x1="307.60" y1="127.50" x2="307.60" y2="189.00" stroke="#222" stroke-width="0.88" />
<line x1="305.00" y1="167.80" x2="328.00" y2="167.80" stroke="#222" stroke-width="0.88" />
<line x1="305.00" y1="174.80" x2="328.00" y2="174.80" stroke="#222" stroke-width="0.88" />
<polygon points="307.60,167.80 306.02,160.30 309.18,160.30" fill="#111"/>
<polygon points="307.60,174.80 309.18,182.30 306.02,182.30" fill="#111"/>
<text x="304.60" y="153.50" font-family="'Liberation Serif','Noto Serif CJK SC',serif" font-size="10" fill="#111"  transform="rotate(-90 304.60 153.50)"     stroke="#111" stroke-width="0.15">Ø25</text>
<text x="305.60" y="137.00" font-family="'Liberation Serif','Noto Serif CJK SC',serif" font-size="6.5" fill="#111"  transform="rotate(-90 305.60 137.00)"     stroke="#111" stroke-width="0.15">k6</text>
<line x1="479.70" y1="155.80" x2="479.70" y2="195.00" stroke="#222" stroke-width="0.88" />
<polygon points="479.70,155.80 481.28,163.30 478.12,163.30" fill="#111"/>
<polygon points="479.70,195.00 478.12,187.50 481.28,187.50" fill="#111"/>
<line x1="461.00" y1="155.80" x2="482.00" y2="155.80" stroke="#222" stroke-width="0.88" />
<line x1="456.00" y1="195.00" x2="482.00" y2="195.00" stroke="#222" stroke-width="0.88" />
<text x="477.20" y="175.60" font-family="'Liberation Serif','Noto Serif CJK SC',serif" font-size="10" fill="#111" text-anchor="middle" transform="rotate(-90 477.20 175.60)"     stroke="#111" stroke-width="0.15">AC</text>
<line x1="327.90" y1="175.00" x2="327.90" y2="229.00" stroke="#222" stroke-width="0.88" />
<line x1="346.30" y1="198.00" x2="346.30" y2="243.00" stroke="#222" stroke-width="0.88" />
<line x1="351.10" y1="198.00" x2="351.10" y2="229.00" stroke="#222" stroke-width="0.88" />
<line x1="394.10" y1="198.00" x2="394.10" y2="243.00" stroke="#222" stroke-width="0.88" />
<line x1="331.50" y1="211.00" x2="373.00" y2="211.00" stroke="#222" stroke-width="0.88" />
<polygon points="346.30,211.00 338.80,212.58 338.80,209.42" fill="#111"/>
<polygon points="351.10,211.00 358.60,209.42 358.60,212.58" fill="#111"/>
<text x="353.40" y="208.60" font-family="'Liberation Serif','Noto Serif CJK SC',serif" font-size="10" fill="#111" text-anchor="middle"      stroke="#111" stroke-width="0.15">40</text>
<line x1="327.90" y1="226.60" x2="351.10" y2="226.60" stroke="#222" stroke-width="0.88" />
<polygon points="327.90,226.60 334.77,225.31 334.77,227.89" fill="#111"/>
<polygon points="351.10,226.60 344.23,227.89 344.23,225.31" fill="#111"/>
<line x1="351.10" y1="226.60" x2="388.60" y2="226.60" stroke="#222" stroke-width="0.88" />
<polygon points="351.10,226.60 357.98,225.31 357.98,227.89" fill="#111"/>
<polygon points="388.60,226.60 381.73,227.89 381.73,225.31" fill="#111"/>
<text x="340.20" y="224.20" font-family="'Liberation Serif','Noto Serif CJK SC',serif" font-size="10" fill="#111" text-anchor="middle"      stroke="#111" stroke-width="0.15">75</text>
<text x="370.20" y="224.20" font-family="'Liberation Serif','Noto Serif CJK SC',serif" font-size="10" fill="#111" text-anchor="middle"      stroke="#111" stroke-width="0.15">130</text>
<line x1="346.30" y1="240.10" x2="394.10" y2="240.10" stroke="#222" stroke-width="0.88" />
<polygon points="346.30,240.10 353.18,238.81 353.18,241.39" fill="#111"/>
<polygon points="394.10,240.10 387.23,241.39 387.23,238.81" fill="#111"/>
<text x="370.20" y="237.80" font-family="'Liberation Serif','Noto Serif CJK SC',serif" font-size="10" fill="#111" text-anchor="middle"      stroke="#111" stroke-width="0.15">160</text>
<text x="283.60" y="203.20" font-family="'Liberation Serif','Noto Serif CJK SC',serif" font-size="10" fill="#111"   textLength="43.00" lengthAdjust="spacingAndGlyphs"    stroke="#111" stroke-width="0.15">M10<tspan font-size="9">深</tspan>28</text>
<line x1="283.00" y1="204.40" x2="327.90" y2="204.40" stroke="#222" stroke-width="0.88" />
<text x="281.80" y="212.90" font-family="'Liberation Serif','Noto Serif CJK SC',serif" font-size="10" fill="#111"   textLength="44.00" lengthAdjust="spacingAndGlyphs"    stroke="#111" stroke-width="0.15">GB/T 145</text>
<text x="282.50" y="224.20" font-family="'Liberation Serif','Noto Serif CJK SC',serif" font-size="10" fill="#111"   textLength="38.00" lengthAdjust="spacingAndGlyphs"    stroke="#111" stroke-width="0.15">DIN 332</text>
<path d="M615.5 197.3 L615.5 163.2 L619.6 156.2 L660.3 156.2 L663.3 160.6 L663.3 197.3 Z" fill="none" stroke="#151515" stroke-width="1.88" />
<line x1="618.50" y1="158.60" x2="661.00" y2="158.60" stroke="#151515" stroke-width="1.00" />
<line x1="619.30" y1="159.00" x2="619.30" y2="195.00" stroke="#151515" stroke-width="0.75" stroke-dasharray="4 1.8"/>
<line x1="621.80" y1="159.00" x2="621.80" y2="195.00" stroke="#151515" stroke-width="0.75" stroke-dasharray="4 1.8"/>
<line x1="657.30" y1="159.00" x2="657.30" y2="195.00" stroke="#151515" stroke-width="0.75" stroke-dasharray="4 1.8"/>
<line x1="660.20" y1="159.00" x2="660.20" y2="195.00" stroke="#151515" stroke-width="0.75" stroke-dasharray="4 1.8"/>
<line x1="623.40" y1="163.50" x2="623.40" y2="169.00" stroke="#151515" stroke-width="0.88" />
<polygon points="623.40,163.50 624.69,167.25 622.11,167.25" fill="#111"/>
<path d="M625.8 178.5 L625.8 166 L631.5 159.2 L648 159.2 L654.4 166.5 L654.4 178.5 L651.5 181.8 L628.5 181.8 Z" fill="none" stroke="#151515" stroke-width="1.62" />
<circle cx="639.70" cy="172.80" r="10.20" fill="#fff" stroke="#151515" stroke-width="1.62" />
<circle cx="639.70" cy="172.80" r="8.00" fill="none" stroke="#151515" stroke-width="1.12" />
<circle cx="639.70" cy="172.80" r="4.40" fill="none" stroke="#151515" stroke-width="1.25" />
<circle cx="639.70" cy="172.80" r="2.20" fill="none" stroke="#151515" stroke-width="1.12" />
<line x1="626.00" y1="172.80" x2="654.00" y2="172.80" stroke="#444" stroke-width="0.62" />
<line x1="639.70" y1="160.00" x2="639.70" y2="184.00" stroke="#444" stroke-width="0.62" />
<circle cx="635.30" cy="186.40" r="4.40" fill="#fff" stroke="#151515" stroke-width="1.50" />
<circle cx="649.40" cy="185.20" r="5.10" fill="#fff" stroke="#151515" stroke-width="1.50" />
<line x1="631.50" y1="186.40" x2="639.00" y2="186.40" stroke="#444" stroke-width="0.62" />
<line x1="635.30" y1="182.50" x2="635.30" y2="190.50" stroke="#444" stroke-width="0.62" />
<line x1="645.00" y1="185.20" x2="654.00" y2="185.20" stroke="#444" stroke-width="0.62" />
<line x1="649.40" y1="180.50" x2="649.40" y2="190.00" stroke="#444" stroke-width="0.62" />
<path d="M617 197.3 L617 193.7 L629.5 193.7 L629.5 197.3" fill="none" stroke="#151515" stroke-width="1.25" />
<line x1="623.50" y1="193.70" x2="623.50" y2="197.30" stroke="#151515" stroke-width="0.75" />
<rect x="650.50" y="193.00" width="12.00" height="3.60" rx="0" fill="none" stroke="#151515" stroke-width="0.88" />
<line x1="651.00" y1="196.60" x2="653.00" y2="193.00" stroke="#151515" stroke-width="0.88" />
<line x1="653.00" y1="196.60" x2="655.00" y2="193.00" stroke="#151515" stroke-width="0.88" />
<line x1="655.00" y1="196.60" x2="657.00" y2="193.00" stroke="#151515" stroke-width="0.88" />
<line x1="657.00" y1="196.60" x2="659.00" y2="193.00" stroke="#151515" stroke-width="0.88" />
<line x1="659.00" y1="196.60" x2="661.00" y2="193.00" stroke="#151515" stroke-width="0.88" />
<line x1="661.00" y1="196.60" x2="663.00" y2="193.00" stroke="#151515" stroke-width="0.88" />
<path d="M663.3 163.6 L671 163.6 Q675.7 165 675.7 175.3 Q675.7 185.6 671 187 L663.3 187" fill="none" stroke="#151515" stroke-width="1.62" />
<path d="M665.4 164.8 L670.5 164.8 Q672.6 166 672.6 175.3 Q672.6 184.6 670.5 185.8 L665.4 185.8 Z" fill="none" stroke="#151515" stroke-width="1.00" />
<line x1="615.50" y1="122.80" x2="615.50" y2="161.00" stroke="#222" stroke-width="0.88" />
<line x1="663.50" y1="122.80" x2="663.50" y2="134.50" stroke="#222" stroke-width="0.88" />
<line x1="663.50" y1="146.50" x2="663.50" y2="160.00" stroke="#222" stroke-width="0.88" />
<line x1="615.50" y1="124.40" x2="663.50" y2="124.40" stroke="#222" stroke-width="0.88" />
<polygon points="615.50,124.40 622.38,123.11 622.38,125.69" fill="#111"/>
<polygon points="663.50,124.40 656.62,125.69 656.62,123.11" fill="#111"/>
<text x="639.70" y="122.40" font-family="'Liberation Serif','Noto Serif CJK SC',serif" font-size="10" fill="#111" text-anchor="middle"      stroke="#111" stroke-width="0.15">161</text>
<line x1="639.70" y1="143.00" x2="639.70" y2="168.00" stroke="#222" stroke-width="0.88" />
<line x1="675.70" y1="143.00" x2="675.70" y2="170.00" stroke="#222" stroke-width="0.88" />
<line x1="639.70" y1="144.50" x2="675.70" y2="144.50" stroke="#222" stroke-width="0.88" />
<polygon points="639.70,144.50 646.58,143.21 646.58,145.79" fill="#111"/>
<polygon points="675.70,144.50 668.83,145.79 668.83,143.21" fill="#111"/>
<text x="657.80" y="142.30" font-family="'Liberation Serif','Noto Serif CJK SC',serif" font-size="10" fill="#111" text-anchor="middle"      stroke="#111" stroke-width="0.15">AD</text>
<line x1="585.30" y1="156.20" x2="585.30" y2="197.50" stroke="#222" stroke-width="0.88" />
<polygon points="585.30,156.20 586.88,163.70 583.72,163.70" fill="#111"/>
<polygon points="585.30,197.50 583.72,190.00 586.88,190.00" fill="#111"/>
<line x1="583.00" y1="156.20" x2="617.00" y2="156.20" stroke="#222" stroke-width="0.88" />
<line x1="583.00" y1="197.50" x2="697.00" y2="197.50" stroke="#222" stroke-width="0.88" />
<text x="583.00" y="176.50" font-family="'Liberation Serif','Noto Serif CJK SC',serif" font-size="10" fill="#111" text-anchor="middle" transform="rotate(-90 583.00 176.50)"     stroke="#111" stroke-width="0.15">151</text>
<line x1="603.00" y1="172.80" x2="603.00" y2="197.50" stroke="#222" stroke-width="0.88" />
<polygon points="603.00,172.80 604.58,180.30 601.42,180.30" fill="#111"/>
<polygon points="603.00,197.50 601.42,190.00 604.58,190.00" fill="#111"/>
<line x1="600.50" y1="172.80" x2="626.00" y2="172.80" stroke="#222" stroke-width="0.88" />
<text x="600.80" y="195.00" font-family="'Liberation Serif','Noto Serif CJK SC',serif" font-size="10" fill="#111"  transform="rotate(-90 600.80 195.00)"     stroke="#111" stroke-width="0.15">90</text>
<text x="596.40" y="183.60" font-family="'Liberation Serif','Noto Serif CJK SC',serif" font-size="5" fill="#111"  transform="rotate(-90 596.40 183.60)"     stroke="#111" stroke-width="0.15">0</text>
<text x="601.60" y="184.20" font-family="'Liberation Serif','Noto Serif CJK SC',serif" font-size="5" fill="#111"  transform="rotate(-90 601.60 184.20)" textLength="8.00" lengthAdjust="spacingAndGlyphs"    stroke="#111" stroke-width="0.15">-0.4</text>
<line x1="692.40" y1="167.00" x2="692.40" y2="211.50" stroke="#222" stroke-width="0.88" />
<polygon points="692.40,192.70 690.82,185.20 693.98,185.20" fill="#111"/>
<polygon points="692.40,197.50 693.98,205.00 690.82,205.00" fill="#111"/>
<line x1="663.30" y1="192.70" x2="697.00" y2="192.70" stroke="#222" stroke-width="0.88" />
<text x="690.30" y="172.60" font-family="'Liberation Serif','Noto Serif CJK SC',serif" font-size="10" fill="#111" text-anchor="middle" transform="rotate(-90 690.30 172.60)"     stroke="#111" stroke-width="0.15">18</text>
<line x1="655.00" y1="197.50" x2="655.00" y2="213.00" stroke="#222" stroke-width="0.88" />
<line x1="657.60" y1="197.50" x2="657.60" y2="213.00" stroke="#222" stroke-width="0.88" />
<line x1="640.00" y1="210.70" x2="692.40" y2="210.70" stroke="#222" stroke-width="0.88" />
<polygon points="655.00,210.70 647.50,212.28 647.50,209.12" fill="#111"/>
<polygon points="657.60,210.70 665.10,209.12 665.10,212.28" fill="#111"/>
<text x="681.00" y="208.60" font-family="'Liberation Serif','Noto Serif CJK SC',serif" font-size="10" fill="#111" text-anchor="middle"      stroke="#111" stroke-width="0.15">Ø9</text>
<line x1="615.60" y1="197.50" x2="615.60" y2="243.00" stroke="#222" stroke-width="0.88" />
<line x1="630.00" y1="197.50" x2="630.00" y2="217.00" stroke="#222" stroke-width="0.88" />
<line x1="600.50" y1="214.60" x2="647.50" y2="214.60" stroke="#222" stroke-width="0.88" />
<polygon points="615.60,214.60 608.10,216.18 608.10,213.02" fill="#111"/>
<polygon points="630.00,214.60 637.50,213.02 637.50,216.18" fill="#111"/>
<text x="623.00" y="212.60" font-family="'Liberation Serif','Noto Serif CJK SC',serif" font-size="10" fill="#111" text-anchor="middle"      stroke="#111" stroke-width="0.15">47</text>
<line x1="623.30" y1="197.50" x2="623.30" y2="230.00" stroke="#222" stroke-width="0.88" />
<line x1="656.30" y1="213.00" x2="656.30" y2="230.00" stroke="#222" stroke-width="0.88" />
<line x1="623.30" y1="227.20" x2="656.30" y2="227.20" stroke="#222" stroke-width="0.88" />
<polygon points="623.30,227.20 630.17,225.91 630.17,228.49" fill="#111"/>
<polygon points="656.30,227.20 649.42,228.49 649.42,225.91" fill="#111"/>
<text x="639.80" y="225.20" font-family="'Liberation Serif','Noto Serif CJK SC',serif" font-size="10" fill="#111" text-anchor="middle"      stroke="#111" stroke-width="0.15">110</text>
<line x1="663.40" y1="197.50" x2="663.40" y2="243.00" stroke="#222" stroke-width="0.88" />
<line x1="615.60" y1="240.10" x2="663.40" y2="240.10" stroke="#222" stroke-width="0.88" />
<polygon points="615.60,240.10 622.48,238.81 622.48,241.39" fill="#111"/>
<polygon points="663.40,240.10 656.52,241.39 656.52,238.81" fill="#111"/>
<text x="639.80" y="238.00" font-family="'Liberation Serif','Noto Serif CJK SC',serif" font-size="10" fill="#111" text-anchor="middle"      stroke="#111" stroke-width="0.15">159</text>
<path d="M343 321.3 L329.2 321.3 L328.2 322.3 L328.2 327.3 L329.2 328.3 L343 328.3" fill="none" stroke="#151515" stroke-width="2.00" />
<line x1="329.60" y1="321.30" x2="329.60" y2="328.30" stroke="#151515" stroke-width="0.75" />
<line x1="329.50" y1="325.00" x2="384.00" y2="325.00" stroke="#333" stroke-width="0.88" stroke-dasharray="6 1.5 1.5 1.5"/>
<path d="M355.9 312.3 L347 312.3 L347 337.9 L354.3 337.9" fill="none" stroke="#151515" stroke-width="1.62" />
<line x1="347.00" y1="317.00" x2="355.90" y2="317.00" stroke="#151515" stroke-width="0.88" />
<line x1="347.00" y1="318.30" x2="355.90" y2="318.30" stroke="#151515" stroke-width="0.75" />
<line x1="347.00" y1="332.00" x2="355.90" y2="332.00" stroke="#151515" stroke-width="0.88" />
<line x1="347.00" y1="333.30" x2="355.90" y2="333.30" stroke="#151515" stroke-width="0.75" />
<path d="M355.9 338 L355.9 309.5 Q355.9 308 357.4 308 L376.8 308 L378.3 309.2" fill="none" stroke="#151515" stroke-width="1.88" />
<path d="M354.3 337.9 Q355 345.5 360 345.9 L371.6 345.9 L371.6 350.2 L388 350.2" fill="none" stroke="#151515" stroke-width="1.88" />
<line x1="356.50" y1="310.70" x2="376.50" y2="310.70" stroke="#151515" stroke-width="1.00" />
<line x1="376.50" y1="308.00" x2="376.50" y2="310.70" stroke="#151515" stroke-width="1.50" />
<line x1="359.00" y1="310.70" x2="359.00" y2="345.50" stroke="#151515" stroke-width="1.00" />
<line x1="360.40" y1="310.70" x2="360.40" y2="345.50" stroke="#555" stroke-width="0.62" />
<line x1="372.00" y1="310.70" x2="372.00" y2="345.90" stroke="#151515" stroke-width="1.00" />
<line x1="370.60" y1="310.70" x2="370.60" y2="345.90" stroke="#555" stroke-width="0.62" />
<path d="M372 312 L374.6 316.5 L374.6 350" fill="none" stroke="#151515" stroke-width="1.00" />
<line x1="356.00" y1="318.00" x2="372.00" y2="318.00" stroke="#151515" stroke-width="0.88" />
<line x1="356.00" y1="332.00" x2="372.00" y2="332.00" stroke="#151515" stroke-width="0.88" />
<line x1="356.00" y1="339.50" x2="372.00" y2="339.50" stroke="#151515" stroke-width="0.88" />
<line x1="361.20" y1="331.50" x2="361.20" y2="338.50" stroke="#151515" stroke-width="1.00" />
<line x1="358.80" y1="336.20" x2="363.50" y2="336.20" stroke="#151515" stroke-width="1.00" />
<polygon points="362,333.6 365.3,335.2 362,336.8" fill="#151515"/>
<path d="M378.3 350.2 L378.3 310 L379.6 309 L386.5 309 L388 311.2 L391.8 311.2 Q393.3 311.2 393.3 312.7 L393.3 341.2 Q393.3 342.7 391.8 342.7 L388 342.7 L388 350.2" fill="none" stroke="#151515" stroke-width="1.75" />
<line x1="380.50" y1="309.20" x2="380.50" y2="350.00" stroke="#151515" stroke-width="0.88" />
<line x1="383.40" y1="309.20" x2="383.40" y2="350.00" stroke="#151515" stroke-width="0.75" />
<line x1="386.90" y1="309.20" x2="386.90" y2="350.00" stroke="#151515" stroke-width="1.00" />
<line x1="388.00" y1="311.20" x2="388.00" y2="342.70" stroke="#151515" stroke-width="1.00" />
<line x1="390.60" y1="311.20" x2="390.60" y2="342.70" stroke="#151515" stroke-width="1.00" />
<text x="382.80" y="347.80" font-family="'Liberation Serif','Noto Serif CJK SC',serif" font-size="6.5" fill="#111"  transform="rotate(-90 382.80 347.80)" textLength="11.00" lengthAdjust="spacingAndGlyphs"    stroke="#111" stroke-width="0.15">10.1</text>
<path d="M342.7 309.6 Q342.7 308.6 343.7 308.6 L345.9 308.6 Q346.9 308.6 346.9 309.6 L346.9 340.6 Q346.9 341.6 345.9 341.6 L343.7 341.6 Q342.7 341.6 342.7 340.6 Z" fill="#fff" stroke="#151515" stroke-width="1.75" />
<path d="M342.7 313.6 Q341.4 315.20000000000005 342.7 316.8" fill="none" stroke="#151515" stroke-width="1.62" />
<path d="M342.7 333.4 Q341.4 335.0 342.7 336.59999999999997" fill="none" stroke="#151515" stroke-width="1.62" />
<line x1="344.80" y1="308.60" x2="344.80" y2="341.60" stroke="#555" stroke-width="0.62" />
<rect x="393.20" y="316.30" width="5.70" height="24.00" rx="0" fill="none" stroke="#151515" stroke-width="1.38" />
<path d="M398.9 311.3 L400.9 309.1 L404.2 309.1 L404.2 347.6 L400.9 347.6 L398.9 345.3 Z" fill="none" stroke="#151515" stroke-width="1.62" />
<rect x="400.50" y="309.90" width="3.00" height="2.60" rx="0" fill="none" stroke="#151515" stroke-width="1.00" />
<rect x="400.50" y="344.10" width="3.00" height="2.60" rx="0" fill="none" stroke="#151515" stroke-width="1.00" />
<line x1="404.20" y1="309.90" x2="440.90" y2="309.90" stroke="#151515" stroke-width="2.00" />
<line x1="404.20" y1="346.80" x2="440.90" y2="346.80" stroke="#151515" stroke-width="2.00" />
<line x1="404.20" y1="311.90" x2="440.90" y2="311.90" stroke="#151515" stroke-width="0.88" />
<line x1="404.20" y1="344.80" x2="440.90" y2="344.80" stroke="#151515" stroke-width="0.88" />
<rect x="405.70" y="316.90" width="34.40" height="22.40" rx="0" fill="none" stroke="#151515" stroke-width="1.12" />
<line x1="428.70" y1="316.90" x2="428.70" y2="339.30" stroke="#151515" stroke-width="1.12" />
<line x1="407.50" y1="316.90" x2="407.50" y2="339.30" stroke="#151515" stroke-width="0.88" />
<line x1="407.50" y1="318.90" x2="428.70" y2="318.90" stroke="#151515" stroke-width="1.25" />
<line x1="407.50" y1="320.90" x2="428.70" y2="320.90" stroke="#151515" stroke-width="1.25" />
<line x1="407.50" y1="322.70" x2="428.70" y2="322.70" stroke="#151515" stroke-width="1.25" />
<line x1="407.50" y1="324.50" x2="428.70" y2="324.50" stroke="#151515" stroke-width="1.25" />
<line x1="407.50" y1="332.20" x2="428.70" y2="332.20" stroke="#151515" stroke-width="1.25" />
<line x1="407.50" y1="334.00" x2="428.70" y2="334.00" stroke="#151515" stroke-width="1.25" />
<line x1="407.50" y1="335.90" x2="428.70" y2="335.90" stroke="#151515" stroke-width="1.25" />
<line x1="407.50" y1="337.70" x2="428.70" y2="337.70" stroke="#151515" stroke-width="1.25" />
<line x1="428.70" y1="320.20" x2="440.10" y2="320.20" stroke="#151515" stroke-width="0.88" />
<line x1="428.70" y1="323.20" x2="440.10" y2="323.20" stroke="#151515" stroke-width="0.88" />
<line x1="428.70" y1="333.20" x2="440.10" y2="333.20" stroke="#151515" stroke-width="0.88" />
<line x1="428.70" y1="336.50" x2="440.10" y2="336.50" stroke="#151515" stroke-width="0.88" />
<rect x="406.20" y="317.70" width="1.60" height="1.60" rx="0" fill="none" stroke="#151515" stroke-width="0.75" />
<rect x="406.20" y="336.90" width="1.60" height="1.60" rx="0" fill="none" stroke="#151515" stroke-width="0.75" />
<rect x="427.80" y="317.70" width="1.60" height="1.60" rx="0" fill="none" stroke="#151515" stroke-width="0.75" />
<rect x="427.80" y="336.90" width="1.60" height="1.60" rx="0" fill="none" stroke="#151515" stroke-width="0.75" />
<rect x="430.50" y="325.90" width="8.20" height="4.40" rx="0" fill="none" stroke="#151515" stroke-width="1.00" />
<rect x="435.10" y="326.50" width="3.20" height="3.20" rx="0" fill="#333" stroke="#151515" stroke-width="0.75" />
<line x1="432.90" y1="325.90" x2="432.90" y2="330.30" stroke="#151515" stroke-width="0.75" />
<rect x="401.20" y="326.10" width="3.40" height="4.20" rx="1.2" fill="#fff" stroke="#151515" stroke-width="1.25" />
<path d="M440.9 308.6 L457.4 308.6 Q463.29999999999995 309.1 463.29999999999995 315.70000000000005 L463.29999999999995 340.70000000000005 Q463.29999999999995 347.3 457.4 347.8 L440.9 347.8 Z" fill="none" stroke="#151515" stroke-width="1.62" />
<line x1="442.90" y1="308.60" x2="442.90" y2="347.80" stroke="#151515" stroke-width="1.00" />
<line x1="454.90" y1="308.60" x2="454.90" y2="347.80" stroke="#151515" stroke-width="1.00" />
<line x1="456.50" y1="308.70" x2="456.50" y2="347.70" stroke="#151515" stroke-width="0.75" />
<line x1="392.90" y1="328.30" x2="466.40" y2="328.30" stroke="#333" stroke-width="0.88" stroke-dasharray="7 1.5 1.5 1.5"/>
<line x1="327.90" y1="273.20" x2="327.90" y2="357.00" stroke="#222" stroke-width="0.88" />
<line x1="390.50" y1="273.20" x2="390.50" y2="320.00" stroke="#222" stroke-width="0.88" />
<line x1="463.30" y1="273.20" x2="463.30" y2="308.00" stroke="#222" stroke-width="0.88" />
<line x1="327.90" y1="274.70" x2="390.50" y2="274.70" stroke="#222" stroke-width="0.88" />
<polygon points="327.90,274.70 334.77,273.41 334.77,275.99" fill="#111"/>
<polygon points="390.50,274.70 383.62,275.99 383.62,273.41" fill="#111"/>
<line x1="390.50" y1="274.70" x2="463.30" y2="274.70" stroke="#222" stroke-width="0.88" />
<polygon points="390.50,274.70 397.38,273.41 397.38,275.99" fill="#111"/>
<polygon points="463.30,274.70 456.43,275.99 456.43,273.41" fill="#111"/>
<text x="359.00" y="272.70" font-family="'Liberation Serif','Noto Serif CJK SC',serif" font-size="10" fill="#111" text-anchor="middle"      stroke="#111" stroke-width="0.15">207</text>
<text x="426.60" y="272.70" font-family="'Liberation Serif','Noto Serif CJK SC',serif" font-size="10" fill="#111" text-anchor="middle"      stroke="#111" stroke-width="0.15">L</text>
<line x1="479.70" y1="308.50" x2="479.70" y2="347.70" stroke="#222" stroke-width="0.88" />
<polygon points="479.70,308.50 481.28,316.00 478.12,316.00" fill="#111"/>
<polygon points="479.70,347.70 478.12,340.20 481.28,340.20" fill="#111"/>
<line x1="463.00" y1="308.50" x2="482.50" y2="308.50" stroke="#222" stroke-width="0.88" />
<line x1="458.00" y1="347.70" x2="482.50" y2="347.70" stroke="#222" stroke-width="0.88" />
<text x="476.60" y="328.30" font-family="'Liberation Serif','Noto Serif CJK SC',serif" font-size="10" fill="#111" text-anchor="middle" transform="rotate(-90 476.60 328.30)"     stroke="#111" stroke-width="0.15">AC</text>
<line x1="343.50" y1="293.50" x2="343.50" y2="321.00" stroke="#222" stroke-width="0.88" />
<line x1="313.50" y1="296.00" x2="358.50" y2="296.00" stroke="#222" stroke-width="0.88" />
<polygon points="327.90,296.00 320.40,297.58 320.40,294.42" fill="#111"/>
<polygon points="343.50,296.00 351.00,294.42 351.00,297.58" fill="#111"/>
<text x="336.20" y="294.00" font-family="'Liberation Serif','Noto Serif CJK SC',serif" font-size="10" fill="#111" text-anchor="middle"      stroke="#111" stroke-width="0.15">50</text>
<line x1="307.90" y1="278.50" x2="307.90" y2="342.00" stroke="#222" stroke-width="0.88" />
<line x1="305.00" y1="321.30" x2="328.00" y2="321.30" stroke="#222" stroke-width="0.88" />
<line x1="305.00" y1="328.30" x2="328.00" y2="328.30" stroke="#222" stroke-width="0.88" />
<polygon points="307.90,321.30 306.32,313.80 309.48,313.80" fill="#111"/>
<polygon points="307.90,328.30 309.48,335.80 306.32,335.80" fill="#111"/>
<text x="304.80" y="306.00" font-family="'Liberation Serif','Noto Serif CJK SC',serif" font-size="10" fill="#111"  transform="rotate(-90 304.80 306.00)"     stroke="#111" stroke-width="0.15">Ø25</text>
<text x="305.80" y="289.00" font-family="'Liberation Serif','Noto Serif CJK SC',serif" font-size="6.5" fill="#111"  transform="rotate(-90 305.80 289.00)"     stroke="#111" stroke-width="0.15">k6</text>
<text x="283.60" y="356.50" font-family="'Liberation Serif','Noto Serif CJK SC',serif" font-size="10" fill="#111"   textLength="43.00" lengthAdjust="spacingAndGlyphs"    stroke="#111" stroke-width="0.15">M10<tspan font-size="9">深</tspan>28</text>
<line x1="283.00" y1="357.70" x2="327.90" y2="357.70" stroke="#222" stroke-width="0.88" />
<text x="281.80" y="366.20" font-family="'Liberation Serif','Noto Serif CJK SC',serif" font-size="10" fill="#111"   textLength="44.00" lengthAdjust="spacingAndGlyphs"    stroke="#111" stroke-width="0.15">GB/T 145</text>
<text x="282.50" y="377.50" font-family="'Liberation Serif','Noto Serif CJK SC',serif" font-size="10" fill="#111"   textLength="38.00" lengthAdjust="spacingAndGlyphs"    stroke="#111" stroke-width="0.15">DIN 332</text>
<path d="M174.9 444.5 L161.1 444.5 L160.1 445.5 L160.1 450.5 L161.1 451.5 L174.9 451.5" fill="none" stroke="#151515" stroke-width="2.00" />
<line x1="161.50" y1="444.50" x2="161.50" y2="451.50" stroke="#151515" stroke-width="0.75" />
<line x1="161.40" y1="448.20" x2="215.90" y2="448.20" stroke="#333" stroke-width="0.88" stroke-dasharray="6 1.5 1.5 1.5"/>
<path d="M187.79999999999998 435.5 L178.9 435.5 L178.9 461.09999999999997 L186.20000000000002 461.09999999999997" fill="none" stroke="#151515" stroke-width="1.62" />
<line x1="178.90" y1="440.20" x2="187.80" y2="440.20" stroke="#151515" stroke-width="0.88" />
<line x1="178.90" y1="441.50" x2="187.80" y2="441.50" stroke="#151515" stroke-width="0.75" />
<line x1="178.90" y1="455.20" x2="187.80" y2="455.20" stroke="#151515" stroke-width="0.88" />
<line x1="178.90" y1="456.50" x2="187.80" y2="456.50" stroke="#151515" stroke-width="0.75" />
<path d="M187.79999999999998 461.2 L187.79999999999998 432.7 Q187.79999999999998 431.2 189.29999999999998 431.2 L208.70000000000002 431.2 L210.20000000000002 432.4" fill="none" stroke="#151515" stroke-width="1.88" />
<path d="M186.20000000000002 461.09999999999997 Q186.9 468.7 191.9 469.09999999999997 L203.50000000000003 469.09999999999997 L203.50000000000003 473.4 L219.9 473.4" fill="none" stroke="#151515" stroke-width="1.88" />
<line x1="188.40" y1="433.90" x2="208.40" y2="433.90" stroke="#151515" stroke-width="1.00" />
<line x1="208.40" y1="431.20" x2="208.40" y2="433.90" stroke="#151515" stroke-width="1.50" />
<line x1="190.90" y1="433.90" x2="190.90" y2="468.70" stroke="#151515" stroke-width="1.00" />
<line x1="192.30" y1="433.90" x2="192.30" y2="468.70" stroke="#555" stroke-width="0.62" />
<line x1="203.90" y1="433.90" x2="203.90" y2="469.10" stroke="#151515" stroke-width="1.00" />
<line x1="202.50" y1="433.90" x2="202.50" y2="469.10" stroke="#555" stroke-width="0.62" />
<path d="M203.9 435.2 L206.50000000000003 439.7 L206.50000000000003 473.2" fill="none" stroke="#151515" stroke-width="1.00" />
<line x1="187.90" y1="441.20" x2="203.90" y2="441.20" stroke="#151515" stroke-width="0.88" />
<line x1="187.90" y1="455.20" x2="203.90" y2="455.20" stroke="#151515" stroke-width="0.88" />
<line x1="187.90" y1="462.70" x2="203.90" y2="462.70" stroke="#151515" stroke-width="0.88" />
<line x1="193.10" y1="454.70" x2="193.10" y2="461.70" stroke="#151515" stroke-width="1.00" />
<line x1="190.70" y1="459.40" x2="195.40" y2="459.40" stroke="#151515" stroke-width="1.00" />
<polygon points="193.9,456.8 197.20000000000002,458.4 193.9,460.0" fill="#151515"/>
<path d="M210.20000000000002 473.4 L210.20000000000002 432.59999999999997 L211.9 431.59999999999997 L216.9 431.59999999999997 Q220.9 432.2 220.9 436.7 L220.9 468.7 Q220.9 473.2 216.9 473.4 L203.50000000000003 473.4" fill="none" stroke="#151515" stroke-width="1.75" />
<line x1="212.40" y1="432.00" x2="212.40" y2="473.20" stroke="#151515" stroke-width="1.00" />
<line x1="214.90" y1="432.00" x2="214.90" y2="473.20" stroke="#151515" stroke-width="0.88" />
<line x1="217.90" y1="432.00" x2="217.90" y2="473.20" stroke="#151515" stroke-width="0.88" />
<line x1="203.90" y1="448.20" x2="222.90" y2="448.20" stroke="#333" stroke-width="0.88" stroke-dasharray="6 1.5 1.5 1.5"/>
<path d="M174.00000000000003 432.2 Q174.00000000000003 431.2 175.00000000000003 431.2 L177.79999999999998 431.2 Q178.79999999999998 431.2 178.79999999999998 432.2 L178.79999999999998 463.8 Q178.79999999999998 464.8 177.79999999999998 464.8 L175.00000000000003 464.8 Q174.00000000000003 464.8 174.00000000000003 463.8 Z" fill="#fff" stroke="#151515" stroke-width="1.75" />
<path d="M174.00000000000003 442.7 Q175.80000000000004 444.2 175.4 448.0 Q175.80000000000004 451.8 174.00000000000003 453.2" fill="none" stroke="#151515" stroke-width="1.12" />
<text x="99.00" y="395.00" font-family="'Liberation Serif','Noto Serif CJK SC',serif" font-size="12" fill="#111"   textLength="27.50" lengthAdjust="spacingAndGlyphs"    stroke="#111" stroke-width="0.15">Ø120</text>
<line x1="174.90" y1="403.60" x2="174.90" y2="431.20" stroke="#222" stroke-width="0.88" />
<line x1="178.80" y1="403.60" x2="178.80" y2="431.20" stroke="#222" stroke-width="0.88" />
<line x1="146.00" y1="405.60" x2="193.80" y2="405.60" stroke="#222" stroke-width="0.88" />
<polygon points="174.90,405.60 167.40,407.18 167.40,404.02" fill="#111"/>
<polygon points="178.80,405.60 186.30,404.02 186.30,407.18" fill="#111"/>
<text x="152.50" y="403.20" font-family="'Liberation Serif','Noto Serif CJK SC',serif" font-size="10" fill="#111" text-anchor="middle"      stroke="#111" stroke-width="0.15">10</text>
<line x1="150.00" y1="419.60" x2="188.80" y2="419.60" stroke="#222" stroke-width="0.88" />
<polygon points="174.20,419.60 166.70,421.18 166.70,418.02" fill="#111"/>
<polygon points="177.00,419.60 184.50,418.02 184.50,421.18" fill="#111"/>
<text x="154.50" y="417.20" font-family="'Liberation Serif','Noto Serif CJK SC',serif" font-size="10" fill="#111" text-anchor="middle"      stroke="#111" stroke-width="0.15">3</text>
<line x1="137.60" y1="431.20" x2="137.60" y2="464.80" stroke="#222" stroke-width="0.88" />
<polygon points="137.60,431.20 139.18,438.70 136.02,438.70" fill="#111"/>
<polygon points="137.60,464.80 136.02,457.30 139.18,457.30" fill="#111"/>
<line x1="135.60" y1="431.20" x2="174.00" y2="431.20" stroke="#222" stroke-width="0.88" />
<line x1="135.60" y1="464.80" x2="174.00" y2="464.80" stroke="#222" stroke-width="0.88" />
<text x="135.00" y="448.50" font-family="'Liberation Serif','Noto Serif CJK SC',serif" font-size="10.5" fill="#111" text-anchor="middle" transform="rotate(-90 135.00 448.50)"     stroke="#111" stroke-width="0.15">Ø120</text>
<line x1="153.60" y1="438.00" x2="153.60" y2="458.40" stroke="#222" stroke-width="0.88" />
<polygon points="153.60,438.00 155.18,445.50 152.02,445.50" fill="#111"/>
<polygon points="153.60,458.40 152.02,450.90 155.18,450.90" fill="#111"/>
<line x1="151.60" y1="438.00" x2="174.00" y2="438.00" stroke="#222" stroke-width="0.88" />
<line x1="151.60" y1="458.40" x2="174.00" y2="458.40" stroke="#222" stroke-width="0.88" />
<text x="151.00" y="451.00" font-family="'Liberation Serif','Noto Serif CJK SC',serif" font-size="10.5" fill="#111" text-anchor="middle" transform="rotate(-90 151.00 451.00)"     stroke="#111" stroke-width="0.15">Ø80<tspan font-size="6.5" dy="1.5">j6</tspan></text>
<path d="M293.1 473.90000000000003 L293.1 441.2 L297.4 431.7 L336.4 431.7 L340.69999999999993 441.90000000000003 L340.69999999999993 473.90000000000003 Z" fill="none" stroke="#151515" stroke-width="1.88" />
<path d="M297.4 469.2 L297.4 433.8 L336.4 433.8 L336.4 469.2 Z" fill="none" stroke="#151515" stroke-width="1.12" />
<path d="M299.4 467.40000000000003 L299.4 439.8 L302.4 435.40000000000003 L331.9 435.40000000000003 L334.79999999999995 439.8 L334.79999999999995 467.40000000000003 Z" fill="none" stroke="#151515" stroke-width="1.00" />
<line x1="295.20" y1="441.80" x2="295.20" y2="470.80" stroke="#151515" stroke-width="1.00" stroke-dasharray="4 2"/>
<line x1="338.60" y1="441.80" x2="338.60" y2="470.80" stroke="#151515" stroke-width="1.00" stroke-dasharray="4 2"/>
<line x1="293.40" y1="471.10" x2="340.40" y2="471.10" stroke="#151515" stroke-width="0.88" />
<circle cx="311.40" cy="462.30" r="4.60" fill="none" stroke="#151515" stroke-width="1.25" />
<circle cx="325.40" cy="461.30" r="5.20" fill="none" stroke="#151515" stroke-width="1.25" />
<circle cx="317.20" cy="448.60" r="17.70" fill="#fff" stroke="#151515" stroke-width="1.75" />
<circle cx="317.20" cy="448.60" r="15.00" fill="none" stroke="#333" stroke-width="0.88" stroke-dasharray="4 1.5 1 1.5"/>
<circle cx="317.20" cy="448.60" r="12.00" fill="none" stroke="#151515" stroke-width="1.25" />
<circle cx="317.20" cy="448.60" r="5.60" fill="none" stroke="#151515" stroke-width="1.12" />
<circle cx="317.20" cy="448.60" r="3.60" fill="none" stroke="#151515" stroke-width="1.12" />
<circle cx="317.20" cy="448.60" r="1.70" fill="none" stroke="#151515" stroke-width="1.00" />
<line x1="297.20" y1="448.60" x2="337.20" y2="448.60" stroke="#444" stroke-width="0.62" />
<line x1="317.20" y1="428.60" x2="317.20" y2="468.60" stroke="#444" stroke-width="0.62" />
<circle cx="306.60" cy="438.00" r="1.10" fill="none" stroke="#151515" stroke-width="0.88" />
<circle cx="306.60" cy="459.20" r="1.10" fill="none" stroke="#151515" stroke-width="0.88" />
<circle cx="327.80" cy="438.00" r="1.10" fill="none" stroke="#151515" stroke-width="0.88" />
<circle cx="327.80" cy="459.20" r="1.10" fill="none" stroke="#151515" stroke-width="0.88" />
<line x1="263.00" y1="429.00" x2="344.50" y2="458.40" stroke="#222" stroke-width="1.00" />
<polygon points="303.11,443.47 295.51,442.41 296.59,439.44" fill="#111"/>
<polygon points="331.33,453.65 338.92,454.70 337.84,457.68" fill="#111"/>
<text x="266.50" y="426.30" font-family="'Liberation Serif','Noto Serif CJK SC',serif" font-size="11" fill="#111"  transform="rotate(19.8 266.50 426.30)"     stroke="#111" stroke-width="0.15">Ø100</text>
<line x1="304.90" y1="414.00" x2="304.90" y2="432.00" stroke="#222" stroke-width="0.88" />
<line x1="308.10" y1="414.00" x2="308.10" y2="432.00" stroke="#222" stroke-width="0.88" />
<line x1="291.00" y1="415.50" x2="357.00" y2="415.50" stroke="#222" stroke-width="0.88" />
<polygon points="304.90,415.50 297.40,417.08 297.40,413.92" fill="#111"/>
<polygon points="308.10,415.50 315.60,413.92 315.60,417.08" fill="#111"/>
<text x="325.40" y="413.30" font-family="'Liberation Serif','Noto Serif CJK SC',serif" font-size="10" fill="#111"   textLength="30.00" lengthAdjust="spacingAndGlyphs"    stroke="#111" stroke-width="0.15">4-Ø6.6</text>
<path d="M510.8 445.0 L497.0 445.0 L496.0 446.0 L496.0 451.0 L497.0 452.0 L510.8 452.0" fill="none" stroke="#151515" stroke-width="2.00" />
<line x1="497.40" y1="445.00" x2="497.40" y2="452.00" stroke="#151515" stroke-width="0.75" />
<line x1="497.30" y1="448.70" x2="551.80" y2="448.70" stroke="#333" stroke-width="0.88" stroke-dasharray="6 1.5 1.5 1.5"/>
<path d="M523.7 436.0 L514.8 436.0 L514.8 461.59999999999997 L522.1 461.59999999999997" fill="none" stroke="#151515" stroke-width="1.62" />
<line x1="514.80" y1="440.70" x2="523.70" y2="440.70" stroke="#151515" stroke-width="0.88" />
<line x1="514.80" y1="442.00" x2="523.70" y2="442.00" stroke="#151515" stroke-width="0.75" />
<line x1="514.80" y1="455.70" x2="523.70" y2="455.70" stroke="#151515" stroke-width="0.88" />
<line x1="514.80" y1="457.00" x2="523.70" y2="457.00" stroke="#151515" stroke-width="0.75" />
<path d="M523.7 461.7 L523.7 433.2 Q523.7 431.7 525.2 431.7 L544.6 431.7 L546.1 432.9" fill="none" stroke="#151515" stroke-width="1.88" />
<path d="M522.1 461.59999999999997 Q522.8 469.2 527.8 469.59999999999997 L539.4000000000001 469.59999999999997 L539.4000000000001 473.9 L555.8 473.9" fill="none" stroke="#151515" stroke-width="1.88" />
<line x1="524.30" y1="434.40" x2="544.30" y2="434.40" stroke="#151515" stroke-width="1.00" />
<line x1="544.30" y1="431.70" x2="544.30" y2="434.40" stroke="#151515" stroke-width="1.50" />
<line x1="526.80" y1="434.40" x2="526.80" y2="469.20" stroke="#151515" stroke-width="1.00" />
<line x1="528.20" y1="434.40" x2="528.20" y2="469.20" stroke="#555" stroke-width="0.62" />
<line x1="539.80" y1="434.40" x2="539.80" y2="469.60" stroke="#151515" stroke-width="1.00" />
<line x1="538.40" y1="434.40" x2="538.40" y2="469.60" stroke="#555" stroke-width="0.62" />
<path d="M539.8 435.7 L542.4000000000001 440.2 L542.4000000000001 473.7" fill="none" stroke="#151515" stroke-width="1.00" />
<line x1="523.80" y1="441.70" x2="539.80" y2="441.70" stroke="#151515" stroke-width="0.88" />
<line x1="523.80" y1="455.70" x2="539.80" y2="455.70" stroke="#151515" stroke-width="0.88" />
<line x1="523.80" y1="463.20" x2="539.80" y2="463.20" stroke="#151515" stroke-width="0.88" />
<line x1="529.00" y1="455.20" x2="529.00" y2="462.20" stroke="#151515" stroke-width="1.00" />
<line x1="526.60" y1="459.90" x2="531.30" y2="459.90" stroke="#151515" stroke-width="1.00" />
<polygon points="529.8,457.3 533.1,458.9 529.8,460.5" fill="#151515"/>
<path d="M546.1 473.9 L546.1 433.09999999999997 L547.8 432.09999999999997 L552.8 432.09999999999997 Q556.8 432.7 556.8 437.2 L556.8 469.2 Q556.8 473.7 552.8 473.9 L539.4000000000001 473.9" fill="none" stroke="#151515" stroke-width="1.75" />
<line x1="548.30" y1="432.50" x2="548.30" y2="473.70" stroke="#151515" stroke-width="1.00" />
<line x1="550.80" y1="432.50" x2="550.80" y2="473.70" stroke="#151515" stroke-width="0.88" />
<line x1="553.80" y1="432.50" x2="553.80" y2="473.70" stroke="#151515" stroke-width="0.88" />
<line x1="539.80" y1="448.70" x2="558.80" y2="448.70" stroke="#333" stroke-width="0.88" stroke-dasharray="6 1.5 1.5 1.5"/>
<path d="M510.6 427.4 Q510.6 426.4 511.6 426.4 L513.7 426.4 Q514.7 426.4 514.7 427.4 L514.7 470.0 Q514.7 471.0 513.7 471.0 L511.6 471.0 Q510.6 471.0 510.6 470.0 Z" fill="#fff" stroke="#151515" stroke-width="1.75" />
<path d="M510.6 443.2 Q512.4000000000001 444.7 512.0 448.5 Q512.4000000000001 452.3 510.6 453.7" fill="none" stroke="#151515" stroke-width="1.12" />
<text x="442.00" y="395.00" font-family="'Liberation Serif','Noto Serif CJK SC',serif" font-size="12" fill="#111"   textLength="27.50" lengthAdjust="spacingAndGlyphs"    stroke="#111" stroke-width="0.15">Ø160</text>
<line x1="511.50" y1="403.60" x2="511.50" y2="426.40" stroke="#222" stroke-width="0.88" />
<line x1="514.70" y1="403.60" x2="514.70" y2="426.40" stroke="#222" stroke-width="0.88" />
<line x1="482.60" y1="405.60" x2="529.70" y2="405.60" stroke="#222" stroke-width="0.88" />
<polygon points="511.50,405.60 504.00,407.18 504.00,404.02" fill="#111"/>
<polygon points="514.70,405.60 522.20,404.02 522.20,407.18" fill="#111"/>
<text x="489.10" y="403.20" font-family="'Liberation Serif','Noto Serif CJK SC',serif" font-size="10" fill="#111" text-anchor="middle"      stroke="#111" stroke-width="0.15">10</text>
<line x1="479.60" y1="418.60" x2="524.70" y2="418.60" stroke="#222" stroke-width="0.88" />
<polygon points="510.80,418.60 503.30,420.18 503.30,417.02" fill="#111"/>
<polygon points="513.60,418.60 521.10,417.02 521.10,420.18" fill="#111"/>
<text x="486.60" y="416.20" font-family="'Liberation Serif','Noto Serif CJK SC',serif" font-size="10" fill="#111" text-anchor="middle"      stroke="#111" stroke-width="0.15">3.5</text>
<line x1="478.00" y1="426.40" x2="478.00" y2="471.00" stroke="#222" stroke-width="0.88" />
<polygon points="478.00,426.40 479.58,433.90 476.42,433.90" fill="#111"/>
<polygon points="478.00,471.00 476.42,463.50 479.58,463.50" fill="#111"/>
<line x1="476.00" y1="426.40" x2="510.60" y2="426.40" stroke="#222" stroke-width="0.88" />
<line x1="476.00" y1="471.00" x2="510.60" y2="471.00" stroke="#222" stroke-width="0.88" />
<text x="475.40" y="449.20" font-family="'Liberation Serif','Noto Serif CJK SC',serif" font-size="10.5" fill="#111" text-anchor="middle" transform="rotate(-90 475.40 449.20)"     stroke="#111" stroke-width="0.15">Ø160</text>
<line x1="492.00" y1="434.00" x2="492.00" y2="464.00" stroke="#222" stroke-width="0.88" />
<polygon points="492.00,434.00 493.58,441.50 490.42,441.50" fill="#111"/>
<polygon points="492.00,464.00 490.42,456.50 493.58,456.50" fill="#111"/>
<line x1="490.00" y1="434.00" x2="510.60" y2="434.00" stroke="#222" stroke-width="0.88" />
<line x1="490.00" y1="464.00" x2="510.60" y2="464.00" stroke="#222" stroke-width="0.88" />
<text x="489.40" y="451.70" font-family="'Liberation Serif','Noto Serif CJK SC',serif" font-size="10.5" fill="#111" text-anchor="middle" transform="rotate(-90 489.40 451.70)"     stroke="#111" stroke-width="0.15">Ø110<tspan font-size="6.5" dy="1.5">j6</tspan></text>
<path d="M615.7 473.90000000000003 L615.7 441.2 L620 431.7 L659 431.7 L663.3 441.90000000000003 L663.3 473.90000000000003 Z" fill="none" stroke="#151515" stroke-width="1.88" />
<path d="M620 469.2 L620 433.8 L659 433.8 L659 469.2 Z" fill="none" stroke="#151515" stroke-width="1.12" />
<path d="M622 467.40000000000003 L622 439.8 L625 435.40000000000003 L654.5 435.40000000000003 L657.4 439.8 L657.4 467.40000000000003 Z" fill="none" stroke="#151515" stroke-width="1.00" />
<line x1="617.80" y1="441.80" x2="617.80" y2="470.80" stroke="#151515" stroke-width="1.00" stroke-dasharray="4 2"/>
<line x1="661.20" y1="441.80" x2="661.20" y2="470.80" stroke="#151515" stroke-width="1.00" stroke-dasharray="4 2"/>
<line x1="616.00" y1="471.10" x2="663.00" y2="471.10" stroke="#151515" stroke-width="0.88" />
<circle cx="634.00" cy="462.30" r="4.60" fill="none" stroke="#151515" stroke-width="1.25" />
<circle cx="648.00" cy="461.30" r="5.20" fill="none" stroke="#151515" stroke-width="1.25" />
<circle cx="639.90" cy="448.60" r="24.20" fill="#fff" stroke="#151515" stroke-width="1.88" />
<circle cx="639.90" cy="448.60" r="19.50" fill="none" stroke="#333" stroke-width="0.88" stroke-dasharray="4 1.5 1 1.5"/>
<circle cx="639.90" cy="448.60" r="16.50" fill="none" stroke="#151515" stroke-width="1.25" />
<circle cx="639.90" cy="448.60" r="5.60" fill="none" stroke="#151515" stroke-width="1.12" />
<circle cx="639.90" cy="448.60" r="3.60" fill="none" stroke="#151515" stroke-width="1.12" />
<circle cx="639.90" cy="448.60" r="1.70" fill="none" stroke="#151515" stroke-width="1.00" />
<line x1="611.90" y1="448.60" x2="667.90" y2="448.60" stroke="#444" stroke-width="0.62" stroke-dasharray="8 2 2 2"/>
<line x1="639.90" y1="421.60" x2="639.90" y2="473.60" stroke="#444" stroke-width="0.62" stroke-dasharray="8 2 2 2"/>
<circle cx="626.10" cy="434.80" r="1.20" fill="none" stroke="#151515" stroke-width="0.88" />
<circle cx="626.10" cy="462.40" r="1.20" fill="none" stroke="#151515" stroke-width="0.88" />
<circle cx="653.70" cy="434.80" r="1.20" fill="none" stroke="#151515" stroke-width="0.88" />
<circle cx="653.70" cy="462.40" r="1.20" fill="none" stroke="#151515" stroke-width="0.88" />
<line x1="582.80" y1="426.20" x2="671.60" y2="461.00" stroke="#222" stroke-width="1.00" />
<polygon points="621.75,441.47 614.19,440.20 615.35,437.26" fill="#111"/>
<polygon points="658.06,455.70 665.62,456.96 664.47,459.90" fill="#111"/>
<text x="586.00" y="423.60" font-family="'Liberation Serif','Noto Serif CJK SC',serif" font-size="11" fill="#111"  transform="rotate(21.4 586.00 423.60)"     stroke="#111" stroke-width="0.15">Ø130</text>
<line x1="624.40" y1="414.00" x2="624.40" y2="430.00" stroke="#222" stroke-width="0.88" />
<line x1="628.00" y1="414.00" x2="628.00" y2="430.00" stroke="#222" stroke-width="0.88" />
<line x1="610.00" y1="415.50" x2="664.40" y2="415.50" stroke="#222" stroke-width="0.88" />
<polygon points="624.40,415.50 616.90,417.08 616.90,413.92" fill="#111"/>
<polygon points="628.00,415.50 635.50,413.92 635.50,417.08" fill="#111"/>
<text x="646.00" y="413.30" font-family="'Liberation Serif','Noto Serif CJK SC',serif" font-size="7.5" fill="#111"   textLength="17.50" lengthAdjust="spacingAndGlyphs"    stroke="#111" stroke-width="0.15">4-Ø9</text>
<path d="M174.9 547.8 L161.1 547.8 L160.1 548.8 L160.1 553.8 L161.1 554.8 L174.9 554.8" fill="none" stroke="#151515" stroke-width="2.00" />
<line x1="161.50" y1="547.80" x2="161.50" y2="554.80" stroke="#151515" stroke-width="0.75" />
<line x1="161.40" y1="551.50" x2="215.90" y2="551.50" stroke="#333" stroke-width="0.88" stroke-dasharray="6 1.5 1.5 1.5"/>
<path d="M187.79999999999998 538.8 L178.9 538.8 L178.9 564.4 L186.20000000000002 564.4" fill="none" stroke="#151515" stroke-width="1.62" />
<line x1="178.90" y1="543.50" x2="187.80" y2="543.50" stroke="#151515" stroke-width="0.88" />
<line x1="178.90" y1="544.80" x2="187.80" y2="544.80" stroke="#151515" stroke-width="0.75" />
<line x1="178.90" y1="558.50" x2="187.80" y2="558.50" stroke="#151515" stroke-width="0.88" />
<line x1="178.90" y1="559.80" x2="187.80" y2="559.80" stroke="#151515" stroke-width="0.75" />
<path d="M187.79999999999998 564.5 L187.79999999999998 536.0 Q187.79999999999998 534.5 189.29999999999998 534.5 L208.70000000000002 534.5 L210.20000000000002 535.7" fill="none" stroke="#151515" stroke-width="1.88" />
<path d="M186.20000000000002 564.4 Q186.9 572.0 191.9 572.4 L203.50000000000003 572.4 L203.50000000000003 576.7 L219.9 576.7" fill="none" stroke="#151515" stroke-width="1.88" />
<line x1="188.40" y1="537.20" x2="208.40" y2="537.20" stroke="#151515" stroke-width="1.00" />
<line x1="208.40" y1="534.50" x2="208.40" y2="537.20" stroke="#151515" stroke-width="1.50" />
<line x1="190.90" y1="537.20" x2="190.90" y2="572.00" stroke="#151515" stroke-width="1.00" />
<line x1="192.30" y1="537.20" x2="192.30" y2="572.00" stroke="#555" stroke-width="0.62" />
<line x1="203.90" y1="537.20" x2="203.90" y2="572.40" stroke="#151515" stroke-width="1.00" />
<line x1="202.50" y1="537.20" x2="202.50" y2="572.40" stroke="#555" stroke-width="0.62" />
<path d="M203.9 538.5 L206.50000000000003 543.0 L206.50000000000003 576.5" fill="none" stroke="#151515" stroke-width="1.00" />
<line x1="187.90" y1="544.50" x2="203.90" y2="544.50" stroke="#151515" stroke-width="0.88" />
<line x1="187.90" y1="558.50" x2="203.90" y2="558.50" stroke="#151515" stroke-width="0.88" />
<line x1="187.90" y1="566.00" x2="203.90" y2="566.00" stroke="#151515" stroke-width="0.88" />
<circle cx="197.40" cy="551.50" r="1.30" fill="none" stroke="#151515" stroke-width="1.12" />
<path d="M210.20000000000002 576.7 L210.20000000000002 535.9 L211.9 534.9 L216.9 534.9 Q220.9 535.5 220.9 540.0 L220.9 572.0 Q220.9 576.5 216.9 576.7 L203.50000000000003 576.7" fill="none" stroke="#151515" stroke-width="1.75" />
<line x1="212.40" y1="535.30" x2="212.40" y2="576.50" stroke="#151515" stroke-width="1.00" />
<line x1="214.90" y1="535.30" x2="214.90" y2="576.50" stroke="#151515" stroke-width="0.88" />
<line x1="217.90" y1="535.30" x2="217.90" y2="576.50" stroke="#151515" stroke-width="0.88" />
<line x1="203.90" y1="551.50" x2="222.90" y2="551.50" stroke="#333" stroke-width="0.88" stroke-dasharray="6 1.5 1.5 1.5"/>
<path d="M174.4 525.0 Q174.4 524.0 175.4 524.0 L177.79999999999998 524.0 Q178.79999999999998 524.0 178.79999999999998 525.0 L178.79999999999998 578.0 Q178.79999999999998 579.0 177.79999999999998 579.0 L175.4 579.0 Q174.4 579.0 174.4 578.0 Z" fill="#fff" stroke="#151515" stroke-width="1.75" />
<path d="M174.4 546.0 Q176.20000000000002 547.5 175.79999999999998 551.3 Q176.20000000000002 555.1 174.4 556.5" fill="none" stroke="#151515" stroke-width="1.12" />
<text x="99.00" y="490.00" font-family="'Liberation Serif','Noto Serif CJK SC',serif" font-size="12" fill="#111"   textLength="27.50" lengthAdjust="spacingAndGlyphs"    stroke="#111" stroke-width="0.15">Ø200</text>
<line x1="175.30" y1="498.00" x2="175.30" y2="524.00" stroke="#222" stroke-width="0.88" />
<line x1="178.80" y1="498.00" x2="178.80" y2="524.00" stroke="#222" stroke-width="0.88" />
<line x1="146.40" y1="500.00" x2="193.80" y2="500.00" stroke="#222" stroke-width="0.88" />
<polygon points="175.30,500.00 167.80,501.58 167.80,498.42" fill="#111"/>
<polygon points="178.80,500.00 186.30,498.42 186.30,501.58" fill="#111"/>
<text x="152.90" y="497.60" font-family="'Liberation Serif','Noto Serif CJK SC',serif" font-size="10" fill="#111" text-anchor="middle"      stroke="#111" stroke-width="0.15">12</text>
<line x1="143.40" y1="514.00" x2="188.80" y2="514.00" stroke="#222" stroke-width="0.88" />
<polygon points="174.60,514.00 167.10,515.58 167.10,512.42" fill="#111"/>
<polygon points="177.40,514.00 184.90,512.42 184.90,515.58" fill="#111"/>
<text x="150.40" y="511.60" font-family="'Liberation Serif','Noto Serif CJK SC',serif" font-size="10" fill="#111" text-anchor="middle"      stroke="#111" stroke-width="0.15">3.5</text>
<line x1="138.00" y1="524.00" x2="138.00" y2="579.00" stroke="#222" stroke-width="0.88" />
<polygon points="138.00,524.00 139.58,531.50 136.42,531.50" fill="#111"/>
<polygon points="138.00,579.00 136.42,571.50 139.58,571.50" fill="#111"/>
<line x1="136.00" y1="524.00" x2="174.40" y2="524.00" stroke="#222" stroke-width="0.88" />
<line x1="136.00" y1="579.00" x2="174.40" y2="579.00" stroke="#222" stroke-width="0.88" />
<text x="135.40" y="552.00" font-family="'Liberation Serif','Noto Serif CJK SC',serif" font-size="10.5" fill="#111" text-anchor="middle" transform="rotate(-90 135.40 552.00)"     stroke="#111" stroke-width="0.15">Ø200</text>
<line x1="154.00" y1="533.60" x2="154.00" y2="569.00" stroke="#222" stroke-width="0.88" />
<polygon points="154.00,533.60 155.58,541.10 152.42,541.10" fill="#111"/>
<polygon points="154.00,569.00 152.42,561.50 155.58,561.50" fill="#111"/>
<line x1="152.00" y1="533.60" x2="174.40" y2="533.60" stroke="#222" stroke-width="0.88" />
<line x1="152.00" y1="569.00" x2="174.40" y2="569.00" stroke="#222" stroke-width="0.88" />
<text x="151.40" y="554.50" font-family="'Liberation Serif','Noto Serif CJK SC',serif" font-size="10.5" fill="#111" text-anchor="middle" transform="rotate(-90 151.40 554.50)"     stroke="#111" stroke-width="0.15">Ø130<tspan font-size="6.5" dy="1.5">j6</tspan></text>
<path d="M292.4 560 L292.4 576.6 L342.8 576.6 L342.8 560" fill="none" stroke="#151515" stroke-width="1.75" />
<path d="M296 570 L296 574.6 L339 574.6 L339 570" fill="none" stroke="#151515" stroke-width="0.88" />
<circle cx="317.20" cy="551.80" r="29.60" fill="#fff" stroke="#151515" stroke-width="1.88" />
<circle cx="317.20" cy="551.80" r="24.70" fill="none" stroke="#333" stroke-width="0.88" stroke-dasharray="5 1.5 1 1.5"/>
<circle cx="317.20" cy="551.80" r="19.50" fill="none" stroke="#151515" stroke-width="1.25" />
<circle cx="317.20" cy="551.80" r="5.60" fill="none" stroke="#151515" stroke-width="1.12" />
<circle cx="317.20" cy="551.80" r="3.60" fill="none" stroke="#151515" stroke-width="1.12" />
<circle cx="317.20" cy="551.80" r="1.70" fill="none" stroke="#151515" stroke-width="1.00" />
<line x1="284.20" y1="551.80" x2="350.20" y2="551.80" stroke="#444" stroke-width="0.62" stroke-dasharray="8 2 2 2"/>
<line x1="317.20" y1="520.80" x2="317.20" y2="580.80" stroke="#444" stroke-width="0.62" stroke-dasharray="8 2 2 2"/>
<circle cx="299.70" cy="534.30" r="1.50" fill="none" stroke="#151515" stroke-width="1.00" />
<circle cx="299.70" cy="569.30" r="1.50" fill="none" stroke="#151515" stroke-width="1.00" />
<circle cx="334.70" cy="534.30" r="1.50" fill="none" stroke="#151515" stroke-width="1.00" />
<circle cx="334.70" cy="569.30" r="1.50" fill="none" stroke="#151515" stroke-width="1.00" />
<line x1="257.20" y1="523.50" x2="352.40" y2="568.60" stroke="#222" stroke-width="1.00" />
<polygon points="294.83,541.33 287.38,539.54 288.73,536.69" fill="#111"/>
<polygon points="339.47,562.48 346.93,564.26 345.57,567.12" fill="#111"/>
<text x="260.00" y="522.20" font-family="'Liberation Serif','Noto Serif CJK SC',serif" font-size="11" fill="#111"  transform="rotate(25.3 260.00 522.20)"     stroke="#111" stroke-width="0.15">Ø165</text>
<line x1="298.00" y1="512.40" x2="298.00" y2="534.00" stroke="#222" stroke-width="0.88" />
<line x1="302.00" y1="512.40" x2="302.00" y2="534.00" stroke="#222" stroke-width="0.88" />
<line x1="283.60" y1="513.90" x2="346.80" y2="513.90" stroke="#222" stroke-width="0.88" />
<polygon points="298.00,513.90 290.50,515.48 290.50,512.32" fill="#111"/>
<polygon points="302.00,513.90 309.50,512.32 309.50,515.48" fill="#111"/>
<text x="318.80" y="511.70" font-family="'Liberation Serif','Noto Serif CJK SC',serif" font-size="10" fill="#111"   textLength="25.50" lengthAdjust="spacingAndGlyphs"    stroke="#111" stroke-width="0.15">4-Ø11</text>
<path d="M345.3 672.0 L330.8 672.0 L329.8 673.0 L329.8 678.0 L330.8 679.0 L345.3 679.0" fill="none" stroke="#151515" stroke-width="1.88" />
<line x1="331.20" y1="672.00" x2="331.20" y2="679.00" stroke="#151515" stroke-width="0.75" />
<line x1="331.80" y1="675.50" x2="343.80" y2="675.50" stroke="#555" stroke-width="0.62" />
<path d="M355.90000000000003 664.6 L347.8 664.6 Q345.40000000000003 664.8 345.40000000000003 667.3 L345.40000000000003 686.7 Q345.40000000000003 689.1 347.8 689.1 L353.6 689.1 L354.8 696.1" fill="none" stroke="#151515" stroke-width="1.75" />
<line x1="345.40" y1="668.80" x2="355.90" y2="668.80" stroke="#151515" stroke-width="0.88" />
<line x1="345.40" y1="671.70" x2="355.90" y2="671.70" stroke="#151515" stroke-width="0.88" />
<line x1="345.40" y1="679.20" x2="355.90" y2="679.20" stroke="#151515" stroke-width="0.88" />
<line x1="345.40" y1="683.30" x2="355.90" y2="683.30" stroke="#151515" stroke-width="0.88" />
<line x1="345.40" y1="676.80" x2="368.80" y2="676.80" stroke="#151515" stroke-width="0.75" />
<path d="M355.90000000000003 696.9 L355.90000000000003 661.5 Q355.90000000000003 660.0 357.40000000000003 660.0 L376.0 660.0 L377.3 661.3 L377.3 696.9" fill="none" stroke="#151515" stroke-width="1.75" />
<line x1="356.40" y1="663.00" x2="375.40" y2="663.00" stroke="#151515" stroke-width="1.00" />
<line x1="375.40" y1="660.00" x2="375.40" y2="663.00" stroke="#151515" stroke-width="1.50" />
<line x1="358.60" y1="663.00" x2="358.60" y2="696.30" stroke="#151515" stroke-width="1.00" />
<line x1="360.10" y1="663.00" x2="360.10" y2="696.30" stroke="#555" stroke-width="0.62" />
<line x1="368.80" y1="663.00" x2="368.80" y2="696.30" stroke="#151515" stroke-width="1.00" />
<line x1="367.40" y1="663.00" x2="367.40" y2="696.30" stroke="#555" stroke-width="0.62" />
<path d="M368.8 664.5 L372.0 669.8 L372.0 696.3" fill="none" stroke="#151515" stroke-width="1.00" />
<line x1="373.80" y1="670.30" x2="373.80" y2="696.30" stroke="#151515" stroke-width="0.75" />
<line x1="358.60" y1="669.30" x2="368.80" y2="669.30" stroke="#151515" stroke-width="0.75" />
<line x1="358.60" y1="683.80" x2="368.80" y2="683.80" stroke="#151515" stroke-width="0.75" />
<line x1="358.60" y1="690.30" x2="368.80" y2="690.30" stroke="#151515" stroke-width="0.75" />
<polygon points="364.2,676.8 366.2,674.5 368.0,676.8 366.2,679.1" fill="#151515"/>
<circle cx="356.40" cy="670.80" r="0.80" fill="#151515" stroke="#151515" stroke-width="0.62" />
<path d="M377.3 661.7 L378.8 660.5 L391.1 660.5 Q393.3 660.7 393.3 662.9 L393.3 694.7 Q393.3 696.7 391.1 696.7 L377.3 696.7" fill="none" stroke="#151515" stroke-width="1.62" />
<line x1="379.80" y1="660.70" x2="379.80" y2="696.50" stroke="#151515" stroke-width="1.00" />
<line x1="383.10" y1="660.70" x2="383.10" y2="696.50" stroke="#151515" stroke-width="0.88" />
<line x1="385.80" y1="660.70" x2="385.80" y2="696.50" stroke="#151515" stroke-width="1.12" />
<line x1="388.50" y1="660.70" x2="388.50" y2="696.50" stroke="#151515" stroke-width="0.88" />
<line x1="391.10" y1="660.70" x2="391.10" y2="696.50" stroke="#151515" stroke-width="1.00" />
<text x="378.40" y="696.30" font-family="'Liberation Serif','Noto Serif CJK SC',serif" font-size="6" fill="#111"  transform="rotate(-90 378.40 696.30)" textLength="10.00" lengthAdjust="spacingAndGlyphs"    stroke="#111" stroke-width="0.15">10.1</text>
<line x1="383.10" y1="690.30" x2="383.10" y2="699.80" stroke="#151515" stroke-width="0.75" />
<polygon points="383.10,700.30 381.95,695.92 384.25,695.92" fill="#111"/>
<path d="M350.0 697.1 L394.40000000000003 697.1 Q395.90000000000003 697.1 395.90000000000003 698.6 L395.90000000000003 702.5 L348.5 702.5 L348.5 698.6 Q348.5 697.1 350.0 697.1 Z" fill="none" stroke="#151515" stroke-width="1.75" />
<line x1="353.80" y1="698.90" x2="369.80" y2="698.90" stroke="#151515" stroke-width="0.75" />
<line x1="353.80" y1="698.90" x2="353.80" y2="702.50" stroke="#151515" stroke-width="0.75" />
<line x1="359.80" y1="698.90" x2="359.80" y2="702.50" stroke="#151515" stroke-width="0.75" />
<path d="M331 672.0 L329 672.0 L328 673.0 L328 678.0 L329 679.0 L331 679.0" fill="none" stroke="#151515" stroke-width="1.88" />
<line x1="329.00" y1="672.00" x2="332.00" y2="672.00" stroke="#151515" stroke-width="1.88" />
<line x1="329.00" y1="679.00" x2="332.00" y2="679.00" stroke="#151515" stroke-width="1.88" />
<path d="M341.7 661.9 Q341.7 660.9 342.7 660.9 L345.4 660.9 Q346.4 660.9 346.4 661.9 L346.4 692.2 Q346.4 693.2 345.4 693.2 L342.7 693.2 Q341.7 693.2 341.7 692.2 Z" fill="#fff" stroke="#151515" stroke-width="1.75" />
<path d="M341.7 666 Q340.4 667.6 341.7 669.2" fill="none" stroke="#151515" stroke-width="1.62" />
<path d="M341.7 685 Q340.4 686.6 341.7 688.2" fill="none" stroke="#151515" stroke-width="1.62" />
<line x1="344.00" y1="660.90" x2="344.00" y2="693.20" stroke="#555" stroke-width="0.62" />
<rect x="393.10" y="667.90" width="5.70" height="24.00" rx="0" fill="none" stroke="#151515" stroke-width="1.38" />
<path d="M398.79999999999995 662.9 L400.79999999999995 660.7 L404.09999999999997 660.7 L404.09999999999997 699.2 L400.79999999999995 699.2 L398.79999999999995 696.9 Z" fill="none" stroke="#151515" stroke-width="1.62" />
<rect x="400.40" y="661.50" width="3.00" height="2.60" rx="0" fill="none" stroke="#151515" stroke-width="1.00" />
<rect x="400.40" y="695.70" width="3.00" height="2.60" rx="0" fill="none" stroke="#151515" stroke-width="1.00" />
<line x1="404.10" y1="661.50" x2="440.80" y2="661.50" stroke="#151515" stroke-width="2.00" />
<line x1="404.10" y1="698.40" x2="440.80" y2="698.40" stroke="#151515" stroke-width="2.00" />
<line x1="404.10" y1="663.50" x2="440.80" y2="663.50" stroke="#151515" stroke-width="0.88" />
<line x1="404.10" y1="696.40" x2="440.80" y2="696.40" stroke="#151515" stroke-width="0.88" />
<rect x="405.60" y="668.50" width="34.40" height="22.40" rx="0" fill="none" stroke="#151515" stroke-width="1.12" />
<line x1="428.60" y1="668.50" x2="428.60" y2="690.90" stroke="#151515" stroke-width="1.12" />
<line x1="407.40" y1="668.50" x2="407.40" y2="690.90" stroke="#151515" stroke-width="0.88" />
<line x1="407.40" y1="670.50" x2="428.60" y2="670.50" stroke="#151515" stroke-width="1.25" />
<line x1="407.40" y1="672.50" x2="428.60" y2="672.50" stroke="#151515" stroke-width="1.25" />
<line x1="407.40" y1="674.30" x2="428.60" y2="674.30" stroke="#151515" stroke-width="1.25" />
<line x1="407.40" y1="676.10" x2="428.60" y2="676.10" stroke="#151515" stroke-width="1.25" />
<line x1="407.40" y1="683.80" x2="428.60" y2="683.80" stroke="#151515" stroke-width="1.25" />
<line x1="407.40" y1="685.60" x2="428.60" y2="685.60" stroke="#151515" stroke-width="1.25" />
<line x1="407.40" y1="687.50" x2="428.60" y2="687.50" stroke="#151515" stroke-width="1.25" />
<line x1="407.40" y1="689.30" x2="428.60" y2="689.30" stroke="#151515" stroke-width="1.25" />
<line x1="428.60" y1="671.80" x2="440.00" y2="671.80" stroke="#151515" stroke-width="0.88" />
<line x1="428.60" y1="674.80" x2="440.00" y2="674.80" stroke="#151515" stroke-width="0.88" />
<line x1="428.60" y1="684.80" x2="440.00" y2="684.80" stroke="#151515" stroke-width="0.88" />
<line x1="428.60" y1="688.10" x2="440.00" y2="688.10" stroke="#151515" stroke-width="0.88" />
<rect x="406.10" y="669.30" width="1.60" height="1.60" rx="0" fill="none" stroke="#151515" stroke-width="0.75" />
<rect x="406.10" y="688.50" width="1.60" height="1.60" rx="0" fill="none" stroke="#151515" stroke-width="0.75" />
<rect x="427.70" y="669.30" width="1.60" height="1.60" rx="0" fill="none" stroke="#151515" stroke-width="0.75" />
<rect x="427.70" y="688.50" width="1.60" height="1.60" rx="0" fill="none" stroke="#151515" stroke-width="0.75" />
<rect x="430.40" y="677.50" width="8.20" height="4.40" rx="0" fill="none" stroke="#151515" stroke-width="1.00" />
<rect x="435.00" y="678.10" width="3.20" height="3.20" rx="0" fill="#333" stroke="#151515" stroke-width="0.75" />
<line x1="432.80" y1="677.50" x2="432.80" y2="681.90" stroke="#151515" stroke-width="0.75" />
<rect x="401.10" y="677.70" width="3.40" height="4.20" rx="1.2" fill="#fff" stroke="#151515" stroke-width="1.25" />
<path d="M440.79999999999995 660.2 L457.29999999999995 660.2 Q463.19999999999993 660.7 463.19999999999993 667.3 L463.19999999999993 692.3 Q463.19999999999993 698.9 457.29999999999995 699.4 L440.79999999999995 699.4 Z" fill="none" stroke="#151515" stroke-width="1.62" />
<line x1="442.80" y1="660.20" x2="442.80" y2="699.40" stroke="#151515" stroke-width="1.00" />
<line x1="454.80" y1="660.20" x2="454.80" y2="699.40" stroke="#151515" stroke-width="1.00" />
<line x1="456.40" y1="660.30" x2="456.40" y2="699.30" stroke="#151515" stroke-width="0.75" />
<line x1="392.80" y1="679.90" x2="466.30" y2="679.90" stroke="#333" stroke-width="0.88" stroke-dasharray="7 1.5 1.5 1.5"/>
<line x1="327.90" y1="678.20" x2="327.90" y2="732.20" stroke="#222" stroke-width="0.88" />
<line x1="348.10" y1="701.20" x2="348.10" y2="746.20" stroke="#222" stroke-width="0.88" />
<line x1="352.90" y1="701.20" x2="352.90" y2="732.20" stroke="#222" stroke-width="0.88" />
<line x1="395.90" y1="701.20" x2="395.90" y2="746.20" stroke="#222" stroke-width="0.88" />
<line x1="333.30" y1="714.20" x2="374.80" y2="714.20" stroke="#222" stroke-width="0.88" />
<polygon points="348.10,714.20 340.60,715.78 340.60,712.62" fill="#111"/>
<polygon points="352.90,714.20 360.40,712.62 360.40,715.78" fill="#111"/>
<text x="355.20" y="711.80" font-family="'Liberation Serif','Noto Serif CJK SC',serif" font-size="10" fill="#111" text-anchor="middle"      stroke="#111" stroke-width="0.15">40</text>
<line x1="327.90" y1="728.20" x2="352.90" y2="728.20" stroke="#222" stroke-width="0.88" />
<polygon points="327.90,728.20 334.77,726.91 334.77,729.49" fill="#111"/>
<polygon points="352.90,728.20 346.03,729.49 346.03,726.91" fill="#111"/>
<line x1="352.90" y1="728.20" x2="390.40" y2="728.20" stroke="#222" stroke-width="0.88" />
<polygon points="352.90,728.20 359.78,726.91 359.78,729.49" fill="#111"/>
<polygon points="390.40,728.20 383.53,729.49 383.53,726.91" fill="#111"/>
<text x="340.80" y="725.80" font-family="'Liberation Serif','Noto Serif CJK SC',serif" font-size="10" fill="#111" text-anchor="middle"      stroke="#111" stroke-width="0.15">81</text>
<text x="372.00" y="725.80" font-family="'Liberation Serif','Noto Serif CJK SC',serif" font-size="10" fill="#111" text-anchor="middle"      stroke="#111" stroke-width="0.15">130</text>
<line x1="348.10" y1="743.30" x2="395.90" y2="743.30" stroke="#222" stroke-width="0.88" />
<polygon points="348.10,743.30 354.98,742.01 354.98,744.59" fill="#111"/>
<polygon points="395.90,743.30 389.03,744.59 389.03,742.01" fill="#111"/>
<text x="372.00" y="741.00" font-family="'Liberation Serif','Noto Serif CJK SC',serif" font-size="10" fill="#111" text-anchor="middle"      stroke="#111" stroke-width="0.15">160</text>
<text x="283.60" y="707.50" font-family="'Liberation Serif','Noto Serif CJK SC',serif" font-size="10" fill="#111"   textLength="43.00" lengthAdjust="spacingAndGlyphs"    stroke="#111" stroke-width="0.15">M10<tspan font-size="9">深</tspan>28</text>
<line x1="283.00" y1="708.70" x2="327.90" y2="708.70" stroke="#222" stroke-width="0.88" />
<text x="281.80" y="717.20" font-family="'Liberation Serif','Noto Serif CJK SC',serif" font-size="10" fill="#111"   textLength="44.00" lengthAdjust="spacingAndGlyphs"    stroke="#111" stroke-width="0.15">GB/T 145</text>
<text x="282.50" y="728.50" font-family="'Liberation Serif','Noto Serif CJK SC',serif" font-size="10" fill="#111"   textLength="38.00" lengthAdjust="spacingAndGlyphs"    stroke="#111" stroke-width="0.15">DIN 332</text>
<line x1="327.90" y1="621.60" x2="327.90" y2="733.00" stroke="#222" stroke-width="0.88" />
<line x1="390.40" y1="621.60" x2="390.40" y2="720.00" stroke="#222" stroke-width="0.88" />
<line x1="463.70" y1="621.60" x2="463.70" y2="660.00" stroke="#222" stroke-width="0.88" />
<line x1="327.90" y1="623.10" x2="390.40" y2="623.10" stroke="#222" stroke-width="0.88" />
<polygon points="327.90,623.10 334.77,621.81 334.77,624.39" fill="#111"/>
<polygon points="390.40,623.10 383.52,624.39 383.52,621.81" fill="#111"/>
<line x1="390.40" y1="623.10" x2="463.70" y2="623.10" stroke="#222" stroke-width="0.88" />
<polygon points="390.40,623.10 397.27,621.81 397.27,624.39" fill="#111"/>
<polygon points="463.70,623.10 456.82,624.39 456.82,621.81" fill="#111"/>
<text x="359.50" y="621.20" font-family="'Liberation Serif','Noto Serif CJK SC',serif" font-size="10" fill="#111" text-anchor="middle"      stroke="#111" stroke-width="0.15">207</text>
<text x="426.40" y="621.20" font-family="'Liberation Serif','Noto Serif CJK SC',serif" font-size="10" fill="#111" text-anchor="middle"      stroke="#111" stroke-width="0.15">L</text>
<line x1="343.70" y1="633.00" x2="343.70" y2="674.00" stroke="#222" stroke-width="0.88" />
<line x1="317.60" y1="635.60" x2="357.60" y2="635.60" stroke="#222" stroke-width="0.88" />
<polygon points="327.90,635.60 320.40,637.18 320.40,634.02" fill="#111"/>
<polygon points="343.70,635.60 351.20,634.02 351.20,637.18" fill="#111"/>
<text x="336.00" y="633.70" font-family="'Liberation Serif','Noto Serif CJK SC',serif" font-size="10" fill="#111" text-anchor="middle"      stroke="#111" stroke-width="0.15">50</text>
<line x1="346.20" y1="642.50" x2="346.20" y2="661.00" stroke="#222" stroke-width="0.88" />
<line x1="328.80" y1="644.90" x2="374.40" y2="644.90" stroke="#222" stroke-width="0.88" />
<polygon points="343.70,644.90 336.20,646.48 336.20,643.32" fill="#111"/>
<polygon points="346.20,644.90 353.70,643.32 353.70,646.48" fill="#111"/>
<text x="367.70" y="643.20" font-family="'Liberation Serif','Noto Serif CJK SC',serif" font-size="10" fill="#111" text-anchor="middle"      stroke="#111" stroke-width="0.15">10</text>
<line x1="342.20" y1="650.00" x2="342.20" y2="661.00" stroke="#222" stroke-width="0.88" />
<line x1="319.20" y1="652.70" x2="357.60" y2="652.70" stroke="#222" stroke-width="0.88" />
<polygon points="342.20,652.70 334.70,654.28 334.70,651.12" fill="#111"/>
<polygon points="344.00,652.70 351.50,651.12 351.50,654.28" fill="#111"/>
<text x="322.90" y="650.40" font-family="'Liberation Serif','Noto Serif CJK SC',serif" font-size="10" fill="#111" text-anchor="middle"      stroke="#111" stroke-width="0.15">3</text>
<line x1="479.20" y1="660.40" x2="479.20" y2="699.40" stroke="#222" stroke-width="0.88" />
<polygon points="479.20,660.40 480.78,667.90 477.62,667.90" fill="#111"/>
<polygon points="479.20,699.40 477.62,691.90 480.78,691.90" fill="#111"/>
<line x1="463.00" y1="660.40" x2="482.00" y2="660.40" stroke="#222" stroke-width="0.88" />
<line x1="458.00" y1="699.40" x2="482.00" y2="699.40" stroke="#222" stroke-width="0.88" />
<text x="476.80" y="679.90" font-family="'Liberation Serif','Noto Serif CJK SC',serif" font-size="10" fill="#111" text-anchor="middle" transform="rotate(-90 476.80 679.90)"     stroke="#111" stroke-width="0.15">AC</text>
<line x1="292.50" y1="660.90" x2="292.50" y2="693.20" stroke="#222" stroke-width="0.88" />
<polygon points="292.50,660.90 294.08,668.40 290.92,668.40" fill="#111"/>
<polygon points="292.50,693.20 290.92,685.70 294.08,685.70" fill="#111"/>
<line x1="290.00" y1="660.90" x2="342.00" y2="660.90" stroke="#222" stroke-width="0.88" />
<line x1="290.00" y1="693.20" x2="342.00" y2="693.20" stroke="#222" stroke-width="0.88" />
<text x="290.30" y="677.20" font-family="'Liberation Serif','Noto Serif CJK SC',serif" font-size="11" fill="#111" text-anchor="middle" transform="rotate(-90 290.30 677.20)"     stroke="#111" stroke-width="0.15">Ø120</text>
<line x1="306.40" y1="665.20" x2="306.40" y2="688.40" stroke="#222" stroke-width="0.88" />
<polygon points="306.40,665.20 307.98,672.70 304.82,672.70" fill="#111"/>
<polygon points="306.40,688.40 304.82,680.90 307.98,680.90" fill="#111"/>
<line x1="304.00" y1="665.20" x2="342.00" y2="665.20" stroke="#222" stroke-width="0.88" />
<line x1="304.00" y1="688.40" x2="342.00" y2="688.40" stroke="#222" stroke-width="0.88" />
<text x="304.60" y="678.80" font-family="'Liberation Serif','Noto Serif CJK SC',serif" font-size="10.5" fill="#111" text-anchor="middle" transform="rotate(-90 304.60 678.80)"     stroke="#111" stroke-width="0.15">Ø80<tspan font-size="6.5" dy="1.5">j6</tspan></text>
<line x1="318.40" y1="660.50" x2="318.40" y2="694.00" stroke="#222" stroke-width="0.88" />
<polygon points="318.40,672.20 316.96,665.95 319.84,665.95" fill="#111"/>
<polygon points="318.40,679.00 319.84,685.25 316.96,685.25" fill="#111"/>
<line x1="316.00" y1="672.20" x2="328.00" y2="672.20" stroke="#222" stroke-width="0.88" />
<line x1="316.00" y1="679.00" x2="328.00" y2="679.00" stroke="#222" stroke-width="0.88" />
<text x="316.80" y="678.60" font-family="'Liberation Serif','Noto Serif CJK SC',serif" font-size="8.5" fill="#111" text-anchor="middle" transform="rotate(-90 316.80 678.60)"     stroke="#111" stroke-width="0.15">Ø25<tspan font-size="5.8" dy="1.2">k6</tspan></text>
<path d="M615.5 701.5 L615.5 667.4 L619.6 660.4 L660.3 660.4 L663.3 664.8 L663.3 701.5 Z" fill="none" stroke="#151515" stroke-width="1.88" />
<line x1="618.50" y1="662.80" x2="661.00" y2="662.80" stroke="#151515" stroke-width="1.00" />
<line x1="619.30" y1="663.20" x2="619.30" y2="699.20" stroke="#151515" stroke-width="0.75" stroke-dasharray="4 1.8"/>
<line x1="621.80" y1="663.20" x2="621.80" y2="699.20" stroke="#151515" stroke-width="0.75" stroke-dasharray="4 1.8"/>
<line x1="657.30" y1="663.20" x2="657.30" y2="699.20" stroke="#151515" stroke-width="0.75" stroke-dasharray="4 1.8"/>
<line x1="660.20" y1="663.20" x2="660.20" y2="699.20" stroke="#151515" stroke-width="0.75" stroke-dasharray="4 1.8"/>
<line x1="623.40" y1="667.70" x2="623.40" y2="673.20" stroke="#151515" stroke-width="0.88" />
<polygon points="623.40,667.70 624.69,671.45 622.11,671.45" fill="#111"/>
<circle cx="635.30" cy="691.60" r="4.40" fill="#fff" stroke="#151515" stroke-width="1.50" />
<circle cx="649.40" cy="690.80" r="5.10" fill="#fff" stroke="#151515" stroke-width="1.50" />
<circle cx="639.80" cy="676.80" r="17.70" fill="#fff" stroke="#151515" stroke-width="1.75" />
<circle cx="639.80" cy="676.80" r="15.00" fill="none" stroke="#333" stroke-width="0.88" stroke-dasharray="4 1.5 1 1.5"/>
<circle cx="639.80" cy="676.80" r="12.00" fill="none" stroke="#151515" stroke-width="1.25" />
<circle cx="639.80" cy="676.80" r="5.20" fill="none" stroke="#151515" stroke-width="1.12" />
<circle cx="639.80" cy="676.80" r="2.40" fill="none" stroke="#151515" stroke-width="1.12" />
<line x1="619.80" y1="676.80" x2="659.80" y2="676.80" stroke="#444" stroke-width="0.62" />
<line x1="639.80" y1="656.80" x2="639.80" y2="698.80" stroke="#444" stroke-width="0.62" />
<circle cx="629.20" cy="666.20" r="1.10" fill="none" stroke="#151515" stroke-width="0.88" />
<circle cx="629.20" cy="687.40" r="1.10" fill="none" stroke="#151515" stroke-width="0.88" />
<circle cx="650.40" cy="666.20" r="1.10" fill="none" stroke="#151515" stroke-width="0.88" />
<circle cx="650.40" cy="687.40" r="1.10" fill="none" stroke="#151515" stroke-width="0.88" />
<path d="M617 701.5 L617 697.9 L629.5 697.9 L629.5 701.5" fill="none" stroke="#151515" stroke-width="1.25" />
<line x1="623.50" y1="697.90" x2="623.50" y2="701.50" stroke="#151515" stroke-width="0.75" />
<rect x="650.50" y="697.20" width="12.00" height="3.60" rx="0" fill="none" stroke="#151515" stroke-width="0.88" />
<line x1="651.00" y1="700.80" x2="653.00" y2="697.20" stroke="#151515" stroke-width="0.88" />
<line x1="653.00" y1="700.80" x2="655.00" y2="697.20" stroke="#151515" stroke-width="0.88" />
<line x1="655.00" y1="700.80" x2="657.00" y2="697.20" stroke="#151515" stroke-width="0.88" />
<line x1="657.00" y1="700.80" x2="659.00" y2="697.20" stroke="#151515" stroke-width="0.88" />
<line x1="659.00" y1="700.80" x2="661.00" y2="697.20" stroke="#151515" stroke-width="0.88" />
<line x1="661.00" y1="700.80" x2="663.00" y2="697.20" stroke="#151515" stroke-width="0.88" />
<path d="M663.3 667.8 L671 667.8 Q675.7 669.2 675.7 679.5 Q675.7 689.8 671 691.2 L663.3 691.2" fill="none" stroke="#151515" stroke-width="1.62" />
<path d="M665.4 669.0 L670.5 669.0 Q672.6 670.2 672.6 679.5 Q672.6 688.8 670.5 690.0 L665.4 690.0 Z" fill="none" stroke="#151515" stroke-width="1.00" />
<line x1="589.60" y1="659.80" x2="589.60" y2="701.10" stroke="#222" stroke-width="0.88" />
<polygon points="589.60,659.80 591.18,667.30 588.02,667.30" fill="#111"/>
<polygon points="589.60,701.10 588.02,693.60 591.18,693.60" fill="#111"/>
<line x1="587.30" y1="659.80" x2="617.00" y2="659.80" stroke="#222" stroke-width="0.88" />
<line x1="587.30" y1="701.10" x2="697.00" y2="701.10" stroke="#222" stroke-width="0.88" />
<text x="587.30" y="680.10" font-family="'Liberation Serif','Noto Serif CJK SC',serif" font-size="10" fill="#111" text-anchor="middle" transform="rotate(-90 587.30 680.10)"     stroke="#111" stroke-width="0.15">151</text>
<line x1="607.30" y1="676.40" x2="607.30" y2="701.10" stroke="#222" stroke-width="0.88" />
<polygon points="607.30,676.40 608.88,683.90 605.72,683.90" fill="#111"/>
<polygon points="607.30,701.10 605.72,693.60 608.88,693.60" fill="#111"/>
<line x1="604.80" y1="676.40" x2="626.00" y2="676.40" stroke="#222" stroke-width="0.88" />
<text x="605.10" y="698.60" font-family="'Liberation Serif','Noto Serif CJK SC',serif" font-size="10" fill="#111"  transform="rotate(-90 605.10 698.60)"     stroke="#111" stroke-width="0.15">90</text>
<text x="600.70" y="687.20" font-family="'Liberation Serif','Noto Serif CJK SC',serif" font-size="5" fill="#111"  transform="rotate(-90 600.70 687.20)"     stroke="#111" stroke-width="0.15">0</text>
<text x="605.90" y="687.80" font-family="'Liberation Serif','Noto Serif CJK SC',serif" font-size="5" fill="#111"  transform="rotate(-90 605.90 687.80)" textLength="8.00" lengthAdjust="spacingAndGlyphs"    stroke="#111" stroke-width="0.15">-0.4</text>
<line x1="694.10" y1="670.60" x2="694.10" y2="715.10" stroke="#222" stroke-width="0.88" />
<polygon points="694.10,696.30 692.52,688.80 695.68,688.80" fill="#111"/>
<polygon points="694.10,701.10 695.68,708.60 692.52,708.60" fill="#111"/>
<line x1="663.30" y1="696.30" x2="697.00" y2="696.30" stroke="#222" stroke-width="0.88" />
<text x="692.00" y="676.20" font-family="'Liberation Serif','Noto Serif CJK SC',serif" font-size="10" fill="#111" text-anchor="middle" transform="rotate(-90 692.00 676.20)"     stroke="#111" stroke-width="0.15">18</text>
<line x1="655.00" y1="701.10" x2="655.00" y2="716.60" stroke="#222" stroke-width="0.88" />
<line x1="657.60" y1="701.10" x2="657.60" y2="716.60" stroke="#222" stroke-width="0.88" />
<line x1="640.00" y1="714.30" x2="692.40" y2="714.30" stroke="#222" stroke-width="0.88" />
<polygon points="655.00,714.30 647.50,715.88 647.50,712.72" fill="#111"/>
<polygon points="657.60,714.30 665.10,712.72 665.10,715.88" fill="#111"/>
<text x="681.00" y="712.20" font-family="'Liberation Serif','Noto Serif CJK SC',serif" font-size="10" fill="#111" text-anchor="middle"      stroke="#111" stroke-width="0.15">Ø9</text>
<line x1="615.60" y1="701.10" x2="615.60" y2="746.60" stroke="#222" stroke-width="0.88" />
<line x1="630.00" y1="701.10" x2="630.00" y2="720.60" stroke="#222" stroke-width="0.88" />
<line x1="600.50" y1="718.20" x2="647.50" y2="718.20" stroke="#222" stroke-width="0.88" />
<polygon points="615.60,718.20 608.10,719.78 608.10,716.62" fill="#111"/>
<polygon points="630.00,718.20 637.50,716.62 637.50,719.78" fill="#111"/>
<text x="623.00" y="716.20" font-family="'Liberation Serif','Noto Serif CJK SC',serif" font-size="10" fill="#111" text-anchor="middle"      stroke="#111" stroke-width="0.15">47</text>
<line x1="623.30" y1="701.10" x2="623.30" y2="733.60" stroke="#222" stroke-width="0.88" />
<line x1="656.30" y1="716.60" x2="656.30" y2="733.60" stroke="#222" stroke-width="0.88" />
<line x1="623.30" y1="730.80" x2="656.30" y2="730.80" stroke="#222" stroke-width="0.88" />
<polygon points="623.30,730.80 630.17,729.51 630.17,732.09" fill="#111"/>
<polygon points="656.30,730.80 649.42,732.09 649.42,729.51" fill="#111"/>
<text x="639.80" y="728.80" font-family="'Liberation Serif','Noto Serif CJK SC',serif" font-size="10" fill="#111" text-anchor="middle"      stroke="#111" stroke-width="0.15">110</text>
<line x1="663.40" y1="701.10" x2="663.40" y2="746.60" stroke="#222" stroke-width="0.88" />
<line x1="615.60" y1="743.70" x2="663.40" y2="743.70" stroke="#222" stroke-width="0.88" />
<polygon points="615.60,743.70 622.48,742.41 622.48,744.99" fill="#111"/>
<polygon points="663.40,743.70 656.52,744.99 656.52,742.41" fill="#111"/>
<text x="639.80" y="741.60" font-family="'Liberation Serif','Noto Serif CJK SC',serif" font-size="10" fill="#111" text-anchor="middle"      stroke="#111" stroke-width="0.15">159</text>
<line x1="615.40" y1="621.60" x2="615.40" y2="662.00" stroke="#222" stroke-width="0.88" />
<line x1="663.40" y1="621.60" x2="663.40" y2="638.00" stroke="#222" stroke-width="0.88" />
<line x1="663.40" y1="650.50" x2="663.40" y2="664.00" stroke="#222" stroke-width="0.88" />
<line x1="615.40" y1="623.10" x2="663.40" y2="623.10" stroke="#222" stroke-width="0.88" />
<polygon points="615.40,623.10 622.27,621.81 622.27,624.39" fill="#111"/>
<polygon points="663.40,623.10 656.52,624.39 656.52,621.81" fill="#111"/>
<text x="639.40" y="621.00" font-family="'Liberation Serif','Noto Serif CJK SC',serif" font-size="10" fill="#111" text-anchor="middle"      stroke="#111" stroke-width="0.15">161</text>
<line x1="639.40" y1="646.80" x2="639.40" y2="668.00" stroke="#222" stroke-width="0.88" />
<line x1="675.80" y1="646.80" x2="675.80" y2="674.00" stroke="#222" stroke-width="0.88" />
<line x1="639.40" y1="648.30" x2="675.80" y2="648.30" stroke="#222" stroke-width="0.88" />
<polygon points="639.40,648.30 646.27,647.01 646.27,649.59" fill="#111"/>
<polygon points="675.80,648.30 668.92,649.59 668.92,647.01" fill="#111"/>
<text x="657.70" y="646.00" font-family="'Liberation Serif','Noto Serif CJK SC',serif" font-size="9.5" fill="#111" text-anchor="middle"      stroke="#111" stroke-width="0.15">AD</text>
<line x1="627.90" y1="637.10" x2="627.90" y2="664.00" stroke="#222" stroke-width="0.88" />
<line x1="630.20" y1="637.10" x2="630.20" y2="664.00" stroke="#222" stroke-width="0.88" />
<line x1="579.00" y1="638.60" x2="645.60" y2="638.60" stroke="#222" stroke-width="0.88" />
<polygon points="627.90,638.60 620.40,640.18 620.40,637.02" fill="#111"/>
<polygon points="630.20,638.60 637.70,637.02 637.70,640.18" fill="#111"/>
<text x="581.20" y="636.40" font-family="'Liberation Serif','Noto Serif CJK SC',serif" font-size="10" fill="#111"   textLength="30.50" lengthAdjust="spacingAndGlyphs"    stroke="#111" stroke-width="0.15">4-Ø6.5</text>
<text x="586.80" y="652.00" font-family="'Liberation Serif','Noto Serif CJK SC',serif" font-size="10" fill="#111"   textLength="23.00" lengthAdjust="spacingAndGlyphs"    stroke="#111" stroke-width="0.15">Ø100</text>
<line x1="586.50" y1="653.40" x2="610.00" y2="653.40" stroke="#222" stroke-width="0.88" />
<line x1="610.00" y1="653.40" x2="659.80" y2="692.80" stroke="#222" stroke-width="1.00" />
<polygon points="628.04,667.49 621.17,664.08 623.14,661.60" fill="#111"/>
<polygon points="651.56,686.11 658.43,689.52 656.46,692.00" fill="#111"/>
<path d="M343 826.3 L329.2 826.3 L328.2 827.3 L328.2 832.3 L329.2 833.3 L343 833.3" fill="none" stroke="#151515" stroke-width="2.00" />
<line x1="329.60" y1="826.30" x2="329.60" y2="833.30" stroke="#151515" stroke-width="0.75" />
<line x1="329.50" y1="830.00" x2="384.00" y2="830.00" stroke="#333" stroke-width="0.88" stroke-dasharray="6 1.5 1.5 1.5"/>
<path d="M355.9 817.3 L347 817.3 L347 842.9 L354.3 842.9" fill="none" stroke="#151515" stroke-width="1.62" />
<line x1="347.00" y1="822.00" x2="355.90" y2="822.00" stroke="#151515" stroke-width="0.88" />
<line x1="347.00" y1="823.30" x2="355.90" y2="823.30" stroke="#151515" stroke-width="0.75" />
<line x1="347.00" y1="837.00" x2="355.90" y2="837.00" stroke="#151515" stroke-width="0.88" />
<line x1="347.00" y1="838.30" x2="355.90" y2="838.30" stroke="#151515" stroke-width="0.75" />
<path d="M355.9 843 L355.9 814.5 Q355.9 813 357.4 813 L376.8 813 L378.3 814.2" fill="none" stroke="#151515" stroke-width="1.88" />
<path d="M354.3 842.9 Q355 850.5 360 850.9 L371.6 850.9 L371.6 855.2 L388 855.2" fill="none" stroke="#151515" stroke-width="1.88" />
<line x1="356.50" y1="815.70" x2="376.50" y2="815.70" stroke="#151515" stroke-width="1.00" />
<line x1="376.50" y1="813.00" x2="376.50" y2="815.70" stroke="#151515" stroke-width="1.50" />
<line x1="359.00" y1="815.70" x2="359.00" y2="850.50" stroke="#151515" stroke-width="1.00" />
<line x1="360.40" y1="815.70" x2="360.40" y2="850.50" stroke="#555" stroke-width="0.62" />
<line x1="372.00" y1="815.70" x2="372.00" y2="850.90" stroke="#151515" stroke-width="1.00" />
<line x1="370.60" y1="815.70" x2="370.60" y2="850.90" stroke="#555" stroke-width="0.62" />
<path d="M372 817 L374.6 821.5 L374.6 855" fill="none" stroke="#151515" stroke-width="1.00" />
<line x1="356.00" y1="823.00" x2="372.00" y2="823.00" stroke="#151515" stroke-width="0.88" />
<line x1="356.00" y1="837.00" x2="372.00" y2="837.00" stroke="#151515" stroke-width="0.88" />
<line x1="356.00" y1="844.50" x2="372.00" y2="844.50" stroke="#151515" stroke-width="0.88" />
<line x1="361.20" y1="836.50" x2="361.20" y2="843.50" stroke="#151515" stroke-width="1.00" />
<line x1="358.80" y1="841.20" x2="363.50" y2="841.20" stroke="#151515" stroke-width="1.00" />
<polygon points="362,838.6 365.3,840.2 362,841.8" fill="#151515"/>
<path d="M378.3 855.2 L378.3 815 L379.6 814 L386.5 814 L388 816.2 L391.8 816.2 Q393.3 816.2 393.3 817.7 L393.3 846.2 Q393.3 847.7 391.8 847.7 L388 847.7 L388 855.2" fill="none" stroke="#151515" stroke-width="1.75" />
<line x1="380.50" y1="814.20" x2="380.50" y2="855.00" stroke="#151515" stroke-width="0.88" />
<line x1="383.40" y1="814.20" x2="383.40" y2="855.00" stroke="#151515" stroke-width="0.75" />
<line x1="386.90" y1="814.20" x2="386.90" y2="855.00" stroke="#151515" stroke-width="1.00" />
<line x1="388.00" y1="816.20" x2="388.00" y2="847.70" stroke="#151515" stroke-width="1.00" />
<line x1="390.60" y1="816.20" x2="390.60" y2="847.70" stroke="#151515" stroke-width="1.00" />
<text x="382.80" y="852.80" font-family="'Liberation Serif','Noto Serif CJK SC',serif" font-size="6.5" fill="#111"  transform="rotate(-90 382.80 852.80)" textLength="11.00" lengthAdjust="spacingAndGlyphs"    stroke="#111" stroke-width="0.15">10.1</text>
<rect x="342.80" y="821.80" width="4.10" height="21.20" rx="0" fill="#fff" stroke="#151515" stroke-width="1.88" />
<line x1="344.80" y1="821.80" x2="344.80" y2="843.00" stroke="#555" stroke-width="0.62" />
<polygon points="347,839 351,843 347,843" fill="#151515"/>
<rect x="393.20" y="821.30" width="5.70" height="24.00" rx="0" fill="none" stroke="#151515" stroke-width="1.38" />
<path d="M398.9 816.3 L400.9 814.0999999999999 L404.2 814.0999999999999 L404.2 852.5999999999999 L400.9 852.5999999999999 L398.9 850.3 Z" fill="none" stroke="#151515" stroke-width="1.62" />
<rect x="400.50" y="814.90" width="3.00" height="2.60" rx="0" fill="none" stroke="#151515" stroke-width="1.00" />
<rect x="400.50" y="849.10" width="3.00" height="2.60" rx="0" fill="none" stroke="#151515" stroke-width="1.00" />
<line x1="404.20" y1="814.90" x2="440.90" y2="814.90" stroke="#151515" stroke-width="2.00" />
<line x1="404.20" y1="851.80" x2="440.90" y2="851.80" stroke="#151515" stroke-width="2.00" />
<line x1="404.20" y1="816.90" x2="440.90" y2="816.90" stroke="#151515" stroke-width="0.88" />
<line x1="404.20" y1="849.80" x2="440.90" y2="849.80" stroke="#151515" stroke-width="0.88" />
<rect x="405.70" y="821.90" width="34.40" height="22.40" rx="0" fill="none" stroke="#151515" stroke-width="1.12" />
<line x1="428.70" y1="821.90" x2="428.70" y2="844.30" stroke="#151515" stroke-width="1.12" />
<line x1="407.50" y1="821.90" x2="407.50" y2="844.30" stroke="#151515" stroke-width="0.88" />
<line x1="407.50" y1="823.90" x2="428.70" y2="823.90" stroke="#151515" stroke-width="1.25" />
<line x1="407.50" y1="825.90" x2="428.70" y2="825.90" stroke="#151515" stroke-width="1.25" />
<line x1="407.50" y1="827.70" x2="428.70" y2="827.70" stroke="#151515" stroke-width="1.25" />
<line x1="407.50" y1="829.50" x2="428.70" y2="829.50" stroke="#151515" stroke-width="1.25" />
<line x1="407.50" y1="837.20" x2="428.70" y2="837.20" stroke="#151515" stroke-width="1.25" />
<line x1="407.50" y1="839.00" x2="428.70" y2="839.00" stroke="#151515" stroke-width="1.25" />
<line x1="407.50" y1="840.90" x2="428.70" y2="840.90" stroke="#151515" stroke-width="1.25" />
<line x1="407.50" y1="842.70" x2="428.70" y2="842.70" stroke="#151515" stroke-width="1.25" />
<line x1="428.70" y1="825.20" x2="440.10" y2="825.20" stroke="#151515" stroke-width="0.88" />
<line x1="428.70" y1="828.20" x2="440.10" y2="828.20" stroke="#151515" stroke-width="0.88" />
<line x1="428.70" y1="838.20" x2="440.10" y2="838.20" stroke="#151515" stroke-width="0.88" />
<line x1="428.70" y1="841.50" x2="440.10" y2="841.50" stroke="#151515" stroke-width="0.88" />
<rect x="406.20" y="822.70" width="1.60" height="1.60" rx="0" fill="none" stroke="#151515" stroke-width="0.75" />
<rect x="406.20" y="841.90" width="1.60" height="1.60" rx="0" fill="none" stroke="#151515" stroke-width="0.75" />
<rect x="427.80" y="822.70" width="1.60" height="1.60" rx="0" fill="none" stroke="#151515" stroke-width="0.75" />
<rect x="427.80" y="841.90" width="1.60" height="1.60" rx="0" fill="none" stroke="#151515" stroke-width="0.75" />
<rect x="430.50" y="830.90" width="8.20" height="4.40" rx="0" fill="none" stroke="#151515" stroke-width="1.00" />
<rect x="435.10" y="831.50" width="3.20" height="3.20" rx="0" fill="#333" stroke="#151515" stroke-width="0.75" />
<line x1="432.90" y1="830.90" x2="432.90" y2="835.30" stroke="#151515" stroke-width="0.75" />
<rect x="401.20" y="831.10" width="3.40" height="4.20" rx="1.2" fill="#fff" stroke="#151515" stroke-width="1.25" />
<path d="M440.9 813.5999999999999 L457.4 813.5999999999999 Q463.29999999999995 814.0999999999999 463.29999999999995 820.6999999999999 L463.29999999999995 845.6999999999999 Q463.29999999999995 852.3 457.4 852.8 L440.9 852.8 Z" fill="none" stroke="#151515" stroke-width="1.62" />
<line x1="442.90" y1="813.60" x2="442.90" y2="852.80" stroke="#151515" stroke-width="1.00" />
<line x1="454.90" y1="813.60" x2="454.90" y2="852.80" stroke="#151515" stroke-width="1.00" />
<line x1="456.50" y1="813.70" x2="456.50" y2="852.70" stroke="#151515" stroke-width="0.75" />
<line x1="392.90" y1="833.30" x2="466.40" y2="833.30" stroke="#333" stroke-width="0.88" stroke-dasharray="7 1.5 1.5 1.5"/>
<line x1="327.90" y1="777.60" x2="327.90" y2="836.00" stroke="#222" stroke-width="0.88" />
<line x1="390.40" y1="777.60" x2="390.40" y2="826.00" stroke="#222" stroke-width="0.88" />
<line x1="463.50" y1="777.60" x2="463.50" y2="813.00" stroke="#222" stroke-width="0.88" />
<line x1="327.90" y1="779.10" x2="390.40" y2="779.10" stroke="#222" stroke-width="0.88" />
<polygon points="327.90,779.10 334.77,777.81 334.77,780.39" fill="#111"/>
<polygon points="390.40,779.10 383.52,780.39 383.52,777.81" fill="#111"/>
<line x1="390.40" y1="779.10" x2="463.50" y2="779.10" stroke="#222" stroke-width="0.88" />
<polygon points="390.40,779.10 397.27,777.81 397.27,780.39" fill="#111"/>
<polygon points="463.50,779.10 456.62,780.39 456.62,777.81" fill="#111"/>
<text x="359.50" y="777.00" font-family="'Liberation Serif','Noto Serif CJK SC',serif" font-size="10" fill="#111" text-anchor="middle"      stroke="#111" stroke-width="0.15">207</text>
<text x="426.40" y="777.00" font-family="'Liberation Serif','Noto Serif CJK SC',serif" font-size="10" fill="#111" text-anchor="middle"      stroke="#111" stroke-width="0.15">L</text>
<line x1="479.70" y1="813.50" x2="479.70" y2="852.70" stroke="#222" stroke-width="0.88" />
<polygon points="479.70,813.50 481.28,821.00 478.12,821.00" fill="#111"/>
<polygon points="479.70,852.70 478.12,845.20 481.28,845.20" fill="#111"/>
<line x1="463.00" y1="813.50" x2="482.50" y2="813.50" stroke="#222" stroke-width="0.88" />
<line x1="458.00" y1="852.70" x2="482.50" y2="852.70" stroke="#222" stroke-width="0.88" />
<text x="476.60" y="833.30" font-family="'Liberation Serif','Noto Serif CJK SC',serif" font-size="10" fill="#111" text-anchor="middle" transform="rotate(-90 476.60 833.30)"     stroke="#111" stroke-width="0.15">AC</text>
<line x1="343.70" y1="789.50" x2="343.70" y2="826.00" stroke="#222" stroke-width="0.88" />
<line x1="312.80" y1="791.90" x2="358.40" y2="791.90" stroke="#222" stroke-width="0.88" />
<polygon points="327.90,791.90 320.40,793.48 320.40,790.32" fill="#111"/>
<polygon points="343.70,791.90 351.20,790.32 351.20,793.48" fill="#111"/>
<text x="336.00" y="789.80" font-family="'Liberation Serif','Noto Serif CJK SC',serif" font-size="10" fill="#111" text-anchor="middle"      stroke="#111" stroke-width="0.15">50</text>
<line x1="347.20" y1="797.00" x2="347.20" y2="817.00" stroke="#222" stroke-width="0.88" />
<line x1="328.80" y1="799.40" x2="375.70" y2="799.40" stroke="#222" stroke-width="0.88" />
<polygon points="343.50,799.40 336.00,800.98 336.00,797.82" fill="#111"/>
<polygon points="347.20,799.40 354.70,797.82 354.70,800.98" fill="#111"/>
<text x="368.50" y="797.50" font-family="'Liberation Serif','Noto Serif CJK SC',serif" font-size="10" fill="#111" text-anchor="middle"      stroke="#111" stroke-width="0.15">13</text>
<line x1="342.40" y1="806.00" x2="342.40" y2="817.00" stroke="#222" stroke-width="0.88" />
<line x1="311.20" y1="808.20" x2="359.20" y2="808.20" stroke="#222" stroke-width="0.88" />
<polygon points="342.40,808.20 334.90,809.78 334.90,806.62" fill="#111"/>
<polygon points="344.00,808.20 351.50,806.62 351.50,809.78" fill="#111"/>
<text x="319.70" y="806.30" font-family="'Liberation Serif','Noto Serif CJK SC',serif" font-size="10" fill="#111" text-anchor="middle"      stroke="#111" stroke-width="0.15">2.5</text>
<line x1="292.80" y1="816.70" x2="292.80" y2="842.90" stroke="#222" stroke-width="0.88" />
<polygon points="292.80,816.70 294.38,824.20 291.22,824.20" fill="#111"/>
<polygon points="292.80,842.90 291.22,835.40 294.38,835.40" fill="#111"/>
<line x1="290.00" y1="816.70" x2="343.00" y2="816.70" stroke="#222" stroke-width="0.88" />
<line x1="290.00" y1="842.90" x2="343.00" y2="842.90" stroke="#222" stroke-width="0.88" />
<text x="290.40" y="829.80" font-family="'Liberation Serif','Noto Serif CJK SC',serif" font-size="10.5" fill="#111" text-anchor="middle" transform="rotate(-90 290.40 829.80)"     stroke="#111" stroke-width="0.15">Ø95</text>
<line x1="308.00" y1="808.00" x2="308.00" y2="851.40" stroke="#222" stroke-width="0.88" />
<polygon points="308.00,820.80 306.42,813.30 309.58,813.30" fill="#111"/>
<polygon points="308.00,838.80 309.58,846.30 306.42,846.30" fill="#111"/>
<line x1="305.50" y1="820.80" x2="343.00" y2="820.80" stroke="#222" stroke-width="0.88" />
<line x1="305.50" y1="838.80" x2="343.00" y2="838.80" stroke="#222" stroke-width="0.88" />
<text x="305.60" y="832.00" font-family="'Liberation Serif','Noto Serif CJK SC',serif" font-size="10.5" fill="#111" text-anchor="middle" transform="rotate(-90 305.60 832.00)"     stroke="#111" stroke-width="0.15">Ø60<tspan font-size="6.5" dy="1.5">j6</tspan></text>
<line x1="322.40" y1="813.00" x2="322.40" y2="846.60" stroke="#222" stroke-width="0.88" />
<polygon points="322.40,826.40 320.96,820.15 323.84,820.15" fill="#111"/>
<polygon points="322.40,833.40 323.84,839.65 320.96,839.65" fill="#111"/>
<line x1="320.00" y1="826.40" x2="328.00" y2="826.40" stroke="#222" stroke-width="0.88" />
<line x1="320.00" y1="833.40" x2="328.00" y2="833.40" stroke="#222" stroke-width="0.88" />
<text x="320.30" y="832.20" font-family="'Liberation Serif','Noto Serif CJK SC',serif" font-size="9" fill="#111" text-anchor="middle" transform="rotate(-90 320.30 832.20)"     stroke="#111" stroke-width="0.15">Ø25<tspan font-size="6" dy="1.2">k6</tspan></text>
<clipPath id="kd"><path d="M342.9 883 L342.9 870.2 Q342.9 868.6 344.5 868.6 L354.5 868.6 Q363.2 868.8 363.2 878 L363.2 883 Z"/></clipPath>
<g clip-path="url(#kd)">
<line x1="331.20" y1="884.00" x2="340.20" y2="867.00" stroke="#333" stroke-width="0.75" />
<line x1="333.40" y1="884.00" x2="342.40" y2="867.00" stroke="#333" stroke-width="0.75" />
<line x1="335.60" y1="884.00" x2="344.60" y2="867.00" stroke="#333" stroke-width="0.75" />
<line x1="337.80" y1="884.00" x2="346.80" y2="867.00" stroke="#333" stroke-width="0.75" />
<line x1="340.00" y1="884.00" x2="349.00" y2="867.00" stroke="#333" stroke-width="0.75" />
<line x1="342.20" y1="884.00" x2="351.20" y2="867.00" stroke="#333" stroke-width="0.75" />
<line x1="344.40" y1="884.00" x2="353.40" y2="867.00" stroke="#333" stroke-width="0.75" />
<line x1="346.60" y1="884.00" x2="355.60" y2="867.00" stroke="#333" stroke-width="0.75" />
<line x1="348.80" y1="884.00" x2="357.80" y2="867.00" stroke="#333" stroke-width="0.75" />
<line x1="351.00" y1="884.00" x2="360.00" y2="867.00" stroke="#333" stroke-width="0.75" />
<line x1="353.20" y1="884.00" x2="362.20" y2="867.00" stroke="#333" stroke-width="0.75" />
<line x1="355.40" y1="884.00" x2="364.40" y2="867.00" stroke="#333" stroke-width="0.75" />
<line x1="357.60" y1="884.00" x2="366.60" y2="867.00" stroke="#333" stroke-width="0.75" />
<line x1="359.80" y1="884.00" x2="368.80" y2="867.00" stroke="#333" stroke-width="0.75" />
<line x1="362.00" y1="884.00" x2="371.00" y2="867.00" stroke="#333" stroke-width="0.75" />
<line x1="364.20" y1="884.00" x2="373.20" y2="867.00" stroke="#333" stroke-width="0.75" />
<line x1="366.40" y1="884.00" x2="375.40" y2="867.00" stroke="#333" stroke-width="0.75" />
<line x1="368.60" y1="884.00" x2="377.60" y2="867.00" stroke="#333" stroke-width="0.75" />
<line x1="370.80" y1="884.00" x2="379.80" y2="867.00" stroke="#333" stroke-width="0.75" />
<line x1="373.00" y1="884.00" x2="382.00" y2="867.00" stroke="#333" stroke-width="0.75" />
</g>
<path d="M342.9 883 L342.9 870.2 Q342.9 868.6 344.5 868.6 L354.5 868.6 Q363.2 868.8 363.2 878 L363.2 883 Z" fill="none" stroke="#151515" stroke-width="1.75" />
<rect x="345.60" y="874.80" width="12.20" height="4.40" rx="0" fill="#fff" stroke="#151515" stroke-width="1.00" />
<line x1="350.90" y1="874.80" x2="350.90" y2="879.20" stroke="#151515" stroke-width="0.88" />
<line x1="324.00" y1="874.50" x2="397.80" y2="874.50" stroke="#222" stroke-width="0.88" />
<line x1="324.00" y1="879.40" x2="397.80" y2="879.40" stroke="#222" stroke-width="0.88" />
<line x1="326.40" y1="860.60" x2="326.40" y2="907.00" stroke="#222" stroke-width="0.88" />
<polygon points="326.40,874.50 324.82,867.00 327.98,867.00" fill="#111"/>
<polygon points="326.40,879.40 327.98,886.90 324.82,886.90" fill="#111"/>
<text x="324.40" y="899.80" font-family="'Liberation Serif','Noto Serif CJK SC',serif" font-size="10" fill="#111" text-anchor="middle" transform="rotate(-90 324.40 899.80)"     stroke="#111" stroke-width="0.15">Ø9</text>
<line x1="398.40" y1="860.60" x2="398.40" y2="910.00" stroke="#222" stroke-width="0.88" />
<polygon points="398.40,874.50 396.82,867.00 399.98,867.00" fill="#111"/>
<polygon points="398.40,879.40 399.98,886.90 396.82,886.90" fill="#111"/>
<text x="396.40" y="901.40" font-family="'Liberation Serif','Noto Serif CJK SC',serif" font-size="10" fill="#111" text-anchor="middle" transform="rotate(-90 396.40 901.40)"     stroke="#111" stroke-width="0.15">M8</text>
<line x1="343.20" y1="883.00" x2="343.20" y2="896.00" stroke="#222" stroke-width="0.88" />
<line x1="350.90" y1="879.20" x2="350.90" y2="909.00" stroke="#222" stroke-width="0.88" />
<line x1="358.40" y1="879.20" x2="358.40" y2="909.00" stroke="#222" stroke-width="0.88" />
<line x1="328.50" y1="893.70" x2="378.40" y2="893.70" stroke="#222" stroke-width="0.88" />
<polygon points="343.20,893.70 335.70,895.28 335.70,892.12" fill="#111"/>
<polygon points="350.90,893.70 358.40,892.12 358.40,895.28" fill="#111"/>
<text x="372.00" y="891.60" font-family="'Liberation Serif','Noto Serif CJK SC',serif" font-size="10" fill="#111" text-anchor="middle"      stroke="#111" stroke-width="0.15">13</text>
<line x1="336.00" y1="906.20" x2="384.80" y2="906.20" stroke="#222" stroke-width="0.88" />
<polygon points="350.90,906.20 343.40,907.78 343.40,904.62" fill="#111"/>
<polygon points="358.40,906.20 365.90,904.62 365.90,907.78" fill="#111"/>
<text x="379.70" y="903.80" font-family="'Liberation Serif','Noto Serif CJK SC',serif" font-size="10" fill="#111" text-anchor="middle"      stroke="#111" stroke-width="0.15">12</text>
<path d="M615.7 855.1 L615.7 822.4 L620 812.9 L659 812.9 L663.3 823.1 L663.3 855.1 Z" fill="none" stroke="#151515" stroke-width="1.88" />
<path d="M620 850.4 L620 815 L659 815 L659 850.4 Z" fill="none" stroke="#151515" stroke-width="1.12" />
<path d="M622 848.6 L622 821 L625 816.6 L654.5 816.6 L657.4 821 L657.4 848.6 Z" fill="none" stroke="#151515" stroke-width="1.00" />
<line x1="617.80" y1="823.00" x2="617.80" y2="852.00" stroke="#151515" stroke-width="1.00" stroke-dasharray="4 2"/>
<line x1="661.20" y1="823.00" x2="661.20" y2="852.00" stroke="#151515" stroke-width="1.00" stroke-dasharray="4 2"/>
<line x1="616.00" y1="852.30" x2="663.00" y2="852.30" stroke="#151515" stroke-width="0.88" />
<path d="M663.3 820.3 L671 820.3 Q675.8 821.5 675.8 832.7 Q675.8 843.8 671 845.1 L663.3 845.1" fill="none" stroke="#151515" stroke-width="1.62" />
<path d="M665.4 821.6 L670.5 821.6 Q672.7 823 672.7 832.7 Q672.7 842.5 670.5 843.8 L665.4 843.8 Z" fill="none" stroke="#151515" stroke-width="1.00" />
<circle cx="634.00" cy="843.50" r="4.60" fill="none" stroke="#151515" stroke-width="1.25" />
<circle cx="648.00" cy="842.50" r="5.20" fill="none" stroke="#151515" stroke-width="1.25" />
<circle cx="639.80" cy="829.80" r="11.40" fill="#fff" stroke="#151515" stroke-width="1.62" />
<circle cx="639.80" cy="829.80" r="9.40" fill="none" stroke="#333" stroke-width="0.88" stroke-dasharray="3 1.5"/>
<circle cx="639.80" cy="829.80" r="5.90" fill="none" stroke="#151515" stroke-width="1.25" />
<circle cx="639.80" cy="829.80" r="3.70" fill="none" stroke="#151515" stroke-width="1.25" />
<circle cx="639.80" cy="829.80" r="1.80" fill="none" stroke="#151515" stroke-width="1.00" />
<line x1="621.80" y1="829.80" x2="657.80" y2="829.80" stroke="#444" stroke-width="0.62" />
<line x1="639.80" y1="811.80" x2="639.80" y2="856.80" stroke="#444" stroke-width="0.62" />
<circle cx="639.70" cy="830.00" r="13.80" fill="#fff" stroke="#151515" stroke-width="1.75" />
<circle cx="639.70" cy="830.00" r="11.40" fill="none" stroke="#333" stroke-width="0.88" stroke-dasharray="3 1.5 1 1.5"/>
<circle cx="639.70" cy="830.00" r="9.00" fill="none" stroke="#151515" stroke-width="1.25" />
<circle cx="639.70" cy="830.00" r="5.30" fill="none" stroke="#151515" stroke-width="1.12" />
<circle cx="639.70" cy="830.00" r="2.60" fill="none" stroke="#151515" stroke-width="1.12" />
<line x1="623.70" y1="830.00" x2="655.70" y2="830.00" stroke="#444" stroke-width="0.62" />
<line x1="639.70" y1="814.00" x2="639.70" y2="846.00" stroke="#444" stroke-width="0.62" />
<line x1="639.40" y1="798.20" x2="639.40" y2="817.00" stroke="#222" stroke-width="0.88" />
<line x1="675.50" y1="798.20" x2="675.50" y2="825.00" stroke="#222" stroke-width="0.88" />
<line x1="639.40" y1="799.70" x2="675.50" y2="799.70" stroke="#222" stroke-width="0.88" />
<polygon points="639.40,799.70 646.27,798.41 646.27,800.99" fill="#111"/>
<polygon points="675.50,799.70 668.62,800.99 668.62,798.41" fill="#111"/>
<text x="657.80" y="797.60" font-family="'Liberation Serif','Noto Serif CJK SC',serif" font-size="10" fill="#111" text-anchor="middle"      stroke="#111" stroke-width="0.15">AD</text>
<line x1="604.70" y1="830.30" x2="604.70" y2="855.10" stroke="#222" stroke-width="0.88" />
<polygon points="604.70,830.30 606.28,837.80 603.12,837.80" fill="#111"/>
<polygon points="604.70,855.10 603.12,847.60 606.28,847.60" fill="#111"/>
<line x1="601.00" y1="830.30" x2="623.00" y2="830.30" stroke="#222" stroke-width="0.88" />
<line x1="601.00" y1="855.10" x2="616.00" y2="855.10" stroke="#222" stroke-width="0.88" />
<text x="602.60" y="852.80" font-family="'Liberation Serif','Noto Serif CJK SC',serif" font-size="10" fill="#111"  transform="rotate(-90 602.60 852.80)"     stroke="#111" stroke-width="0.15">90</text>
<text x="598.00" y="841.40" font-family="'Liberation Serif','Noto Serif CJK SC',serif" font-size="5" fill="#111"  transform="rotate(-90 598.00 841.40)"     stroke="#111" stroke-width="0.15">0</text>
<text x="603.20" y="842.00" font-family="'Liberation Serif','Noto Serif CJK SC',serif" font-size="5" fill="#111"  transform="rotate(-90 603.20 842.00)" textLength="8.00" lengthAdjust="spacingAndGlyphs"    stroke="#111" stroke-width="0.15">-0.4</text>
<line x1="615.70" y1="855.10" x2="615.70" y2="871.50" stroke="#222" stroke-width="0.88" />
<line x1="663.30" y1="855.10" x2="663.30" y2="871.50" stroke="#222" stroke-width="0.88" />
<line x1="615.70" y1="868.80" x2="663.30" y2="868.80" stroke="#222" stroke-width="0.88" />
<polygon points="615.70,868.80 622.58,867.51 622.58,870.09" fill="#111"/>
<polygon points="663.30,868.80 656.42,870.09 656.42,867.51" fill="#111"/>
<text x="639.50" y="866.50" font-family="'Liberation Serif','Noto Serif CJK SC',serif" font-size="10" fill="#111" text-anchor="middle"      stroke="#111" stroke-width="0.15">161</text>
<circle cx="542.30" cy="888.40" r="21.80" fill="#fff" stroke="#151515" stroke-width="2.50" />
<circle cx="542.30" cy="888.40" r="18.00" fill="none" stroke="#333" stroke-width="0.88" stroke-dasharray="4 1.5 1 1.5"/>
<circle cx="542.30" cy="888.40" r="14.70" fill="none" stroke="#151515" stroke-width="1.12" />
<circle cx="542.30" cy="888.40" r="6.30" fill="none" stroke="#151515" stroke-width="1.12" />
<circle cx="542.30" cy="888.40" r="3.50" fill="none" stroke="#151515" stroke-width="1.12" />
<line x1="530.80" y1="888.40" x2="554.00" y2="888.40" stroke="#333" stroke-width="0.75" />
<line x1="542.30" y1="850.80" x2="542.30" y2="900.50" stroke="#222" stroke-width="0.88" />
<path d="M542.30 850.80 A37.6 37.6 0 0 1 576.38 904.29" fill="none" stroke="#222" stroke-width="1.00" />
<path d="M576.38 904.29 A37.6 37.6 0 0 1 546.23 925.79" fill="none" stroke="#222" stroke-width="1.00" />
<path d="M546.23 925.79 A37.6 37.6 0 0 1 508.22 872.51" fill="none" stroke="#222" stroke-width="1.00" />
<line x1="555.89" y1="894.74" x2="578.64" y2="905.35" stroke="#222" stroke-width="0.88" />
<line x1="543.76" y1="902.32" x2="546.49" y2="928.28" stroke="#222" stroke-width="0.88" />
<line x1="528.71" y1="882.06" x2="505.96" y2="871.45" stroke="#222" stroke-width="0.88" />
<polygon points="542.30,850.80 549.80,849.22 549.80,852.38" fill="#111"/>
<polygon points="576.38,904.29 578.11,896.82 580.98,898.16" fill="#111"/>
<polygon points="576.38,904.29 574.64,911.76 571.77,910.42" fill="#111"/>
<polygon points="546.23,925.79 553.52,923.44 553.85,926.58" fill="#111"/>
<polygon points="546.23,925.79 538.94,928.15 538.61,925.01" fill="#111"/>
<polygon points="508.22,872.51 506.49,879.98 503.62,878.64" fill="#111"/>
<circle cx="558.61" cy="896.01" r="0.90" fill="#151515" stroke="#151515" stroke-width="0.62" />
<circle cx="544.18" cy="906.30" r="0.90" fill="#151515" stroke="#151515" stroke-width="0.62" />
<circle cx="525.99" cy="880.79" r="0.90" fill="#151515" stroke="#151515" stroke-width="0.62" />
<circle cx="549.91" cy="872.09" r="0.90" fill="#151515" stroke="#151515" stroke-width="0.62" />
<line x1="507.60" y1="852.40" x2="557.40" y2="900.60" stroke="#222" stroke-width="1.00" />
<polygon points="529.37,875.88 522.88,871.80 525.08,869.53" fill="#111"/>
<polygon points="555.23,900.92 561.72,905.00 559.52,907.27" fill="#111"/>
<text x="512.50" y="853.00" font-family="'Liberation Serif','Noto Serif CJK SC',serif" font-size="10.5" fill="#111"  transform="rotate(44.1 512.50 853.00)"     stroke="#111" stroke-width="0.15">Ø76</text>
<text x="573.00" y="858.50" font-family="'Liberation Serif','Noto Serif CJK SC',serif" font-size="10.5" fill="#111"  transform="rotate(52 573.00 858.50)"     stroke="#111" stroke-width="0.15">115°</text>
<text x="506.50" y="900.50" font-family="'Liberation Serif','Noto Serif CJK SC',serif" font-size="10.5" fill="#111"  transform="rotate(48 506.50 900.50)"     stroke="#111" stroke-width="0.15">121°</text>
<text x="560.00" y="922.00" font-family="'Liberation Serif','Noto Serif CJK SC',serif" font-size="10.5" fill="#111"  transform="rotate(-48 560.00 922.00)"     stroke="#111" stroke-width="0.15">59°</text>
</svg>
</body></html>
